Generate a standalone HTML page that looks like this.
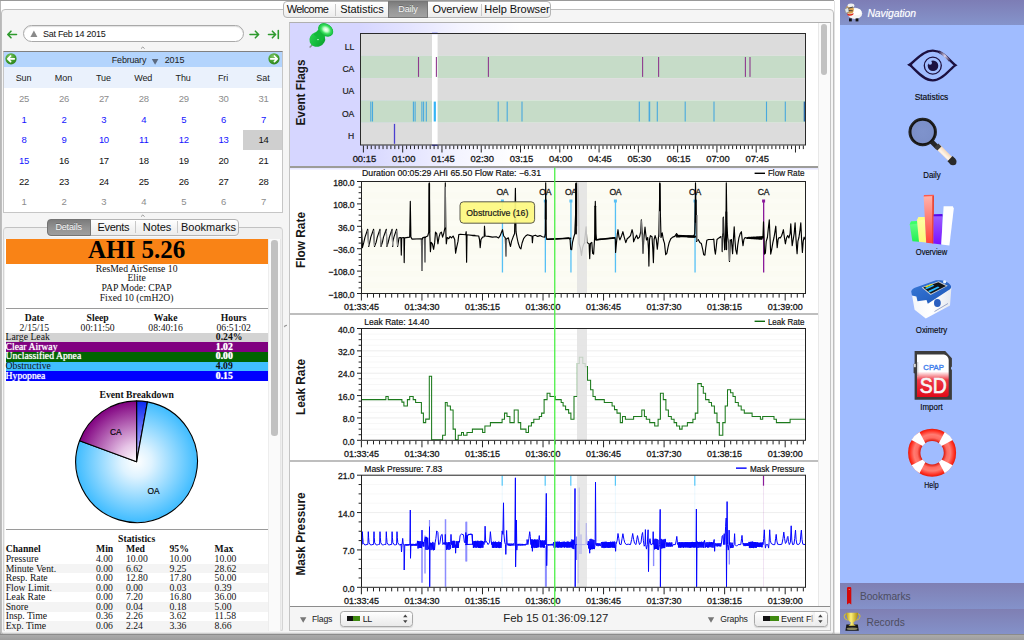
<!DOCTYPE html>
<html><head><meta charset="utf-8"><title>SleepyHead</title><style>
*{box-sizing:border-box;margin:0;padding:0}
html,body{width:1024px;height:640px;overflow:hidden;background:#fff;font-family:"Liberation Sans",sans-serif;}
.abs{position:absolute}
#root{position:relative;width:1024px;height:640px;overflow:hidden;background:#fff}
.t{position:absolute;white-space:nowrap;line-height:1}
.serif{font-family:"Liberation Serif",serif}
svg{position:absolute;left:0;top:0;overflow:visible}
svg text{font-family:"Liberation Sans",sans-serif}
</style></head><body><div id="root">
<div class="abs" style="left:0px;top:0px;width:834px;height:1px;background:#9a9a9a"></div>
<div class="abs" style="left:0px;top:1px;width:1px;height:634px;background:#b8b8b8"></div>
<div class="abs" style="left:1px;top:9px;width:833px;height:627px;background:#f5f5f5;border:1px solid #bebebe;border-radius:4px"></div>
<div class="abs" style="left:834px;top:1px;width:1px;height:633px;background:#e2e2e2"></div>
<div class="abs" style="left:0px;top:634px;width:1024px;height:6px;background:linear-gradient(#7c7c7c,#a9a9a9 25%,#9e9e9e)"></div>
<svg width="300" height="60" viewBox="0 0 300 60"><g fill="none" stroke="#2e9a2e" stroke-width="1.6" stroke-linecap="round" stroke-linejoin="round"><path d="M16.5 34.5H8.2M11 31.2L7.8 34.5L11 37.8"/><path d="M250 34.5H258.2M255.4 31.2L258.6 34.5L255.4 37.8"/><path d="M268.5 34.5H275.2M272.4 31.2L275.6 34.5L272.4 37.8M278.3 30.6V38.4"/></g></svg>
<div class="abs" style="left:23px;top:25px;width:221px;height:17px;background:#fff;border:1px solid #a9a9a9;border-radius:9px;box-shadow:inset 0 1px 1px rgba(0,0,0,.12)"></div>
<svg width="300" height="60"><path d="M30.4 37L33.9 30.6L37.4 37Z" fill="#8a8a8a"/></svg>
<div class="t " style="left:43px;top:30.18px;font-size:9px;color:#111;letter-spacing:-0.28px">Sat Feb 14 2015</div>
<svg width="300" height="340"><path d="M141 48.6l1.8-1.6l1.8 1.6M141 216.6l1.8-1.6l1.8 1.6" fill="none" stroke="#9a9a9a" stroke-width="1"/><path d="M284.4 327.2q.4-2 2.600-1.800" fill="none" stroke="#9a9a9a" stroke-width="1.3"/></svg>
<div class="abs" style="left:3px;top:51px;width:280px;height:162px;background:#fff;border:1px solid #c6c6c6;border-top-color:#808080"></div>
<div class="abs" style="left:4px;top:52px;width:278px;height:15px;background:#b3d4fd"></div>
<div class="abs" style="left:4px;top:67px;width:278px;height:21px;background:#eaf1fc"></div>
<div class="t " style="left:-21px;width:300px;text-align:center;top:55.58px;font-size:9px;color:#222;letter-spacing:-0.2px">February</div>
<div class="t " style="left:24.5px;width:300px;text-align:center;top:55.58px;font-size:9px;color:#222;letter-spacing:-0.1px">2015</div>
<svg width="300" height="80"><path d="M151.8 59h6.6l-3.3 5.8z" fill="#5c6a80"/><defs><radialGradient id="gb" cx="0.4" cy="0.3" r="0.8"><stop offset="0" stop-color="#7fc565"/><stop offset="0.6" stop-color="#3d9a2a"/><stop offset="1" stop-color="#2a7a1a"/></radialGradient></defs><circle cx="11" cy="58.8" r="5.6" fill="url(#gb)"/><path d="M14.3 58.8H8.2M10.6 56L7.8 58.8L10.6 61.6" fill="none" stroke="#fff" stroke-width="1.7" stroke-linecap="round" stroke-linejoin="round"/><circle cx="274" cy="58.8" r="5.6" fill="url(#gb)"/><path d="M270.7 58.8H276.8M274.4 56L277.2 58.8L274.4 61.6" fill="none" stroke="#fff" stroke-width="1.7" stroke-linecap="round" stroke-linejoin="round"/></svg>
<div class="t " style="left:-126.45px;width:300px;text-align:center;top:73.58px;font-size:9px;color:#222;letter-spacing:-0.1px">Sun</div>
<div class="t " style="left:-86.55000000000001px;width:300px;text-align:center;top:73.58px;font-size:9px;color:#222;letter-spacing:-0.1px">Mon</div>
<div class="t " style="left:-46.650000000000006px;width:300px;text-align:center;top:73.58px;font-size:9px;color:#222;letter-spacing:-0.1px">Tue</div>
<div class="t " style="left:-6.75px;width:300px;text-align:center;top:73.58px;font-size:9px;color:#222;letter-spacing:-0.1px">Wed</div>
<div class="t " style="left:33.14999999999998px;width:300px;text-align:center;top:73.58px;font-size:9px;color:#222;letter-spacing:-0.1px">Thu</div>
<div class="t " style="left:73.04999999999998px;width:300px;text-align:center;top:73.58px;font-size:9px;color:#222;letter-spacing:-0.1px">Fri</div>
<div class="t " style="left:112.94999999999999px;width:300px;text-align:center;top:73.58px;font-size:9px;color:#222;letter-spacing:-0.1px">Sat</div>
<div class="abs" style="left:243px;top:129.7px;width:39px;height:20.5px;background:#cfcfcf"></div>
<div class="t " style="left:-125.95px;width:300px;text-align:center;top:93.81px;font-size:9.5px;color:#8c8c8c;letter-spacing:-0.3px">25</div>
<div class="t " style="left:-86.05000000000001px;width:300px;text-align:center;top:93.81px;font-size:9.5px;color:#8c8c8c;letter-spacing:-0.3px">26</div>
<div class="t " style="left:-46.150000000000006px;width:300px;text-align:center;top:93.81px;font-size:9.5px;color:#8c8c8c;letter-spacing:-0.3px">27</div>
<div class="t " style="left:-6.25px;width:300px;text-align:center;top:93.81px;font-size:9.5px;color:#8c8c8c;letter-spacing:-0.3px">28</div>
<div class="t " style="left:33.64999999999998px;width:300px;text-align:center;top:93.81px;font-size:9.5px;color:#8c8c8c;letter-spacing:-0.3px">29</div>
<div class="t " style="left:73.54999999999998px;width:300px;text-align:center;top:93.81px;font-size:9.5px;color:#8c8c8c;letter-spacing:-0.3px">30</div>
<div class="t " style="left:113.44999999999999px;width:300px;text-align:center;top:93.81px;font-size:9.5px;color:#8c8c8c;letter-spacing:-0.3px">31</div>
<div class="t " style="left:-125.95px;width:300px;text-align:center;top:114.51px;font-size:9.5px;color:#1414ff;letter-spacing:-0.3px">1</div>
<div class="t " style="left:-86.05000000000001px;width:300px;text-align:center;top:114.51px;font-size:9.5px;color:#1414ff;letter-spacing:-0.3px">2</div>
<div class="t " style="left:-46.150000000000006px;width:300px;text-align:center;top:114.51px;font-size:9.5px;color:#1414ff;letter-spacing:-0.3px">3</div>
<div class="t " style="left:-6.25px;width:300px;text-align:center;top:114.51px;font-size:9.5px;color:#1414ff;letter-spacing:-0.3px">4</div>
<div class="t " style="left:33.64999999999998px;width:300px;text-align:center;top:114.51px;font-size:9.5px;color:#1414ff;letter-spacing:-0.3px">5</div>
<div class="t " style="left:73.54999999999998px;width:300px;text-align:center;top:114.51px;font-size:9.5px;color:#1414ff;letter-spacing:-0.3px">6</div>
<div class="t " style="left:113.44999999999999px;width:300px;text-align:center;top:114.51px;font-size:9.5px;color:#1414ff;letter-spacing:-0.3px">7</div>
<div class="t " style="left:-125.95px;width:300px;text-align:center;top:135.21px;font-size:9.5px;color:#1414ff;letter-spacing:-0.3px">8</div>
<div class="t " style="left:-86.05000000000001px;width:300px;text-align:center;top:135.21px;font-size:9.5px;color:#1414ff;letter-spacing:-0.3px">9</div>
<div class="t " style="left:-46.150000000000006px;width:300px;text-align:center;top:135.21px;font-size:9.5px;color:#1414ff;letter-spacing:-0.3px">10</div>
<div class="t " style="left:-6.25px;width:300px;text-align:center;top:135.21px;font-size:9.5px;color:#1414ff;letter-spacing:-0.3px">11</div>
<div class="t " style="left:33.64999999999998px;width:300px;text-align:center;top:135.21px;font-size:9.5px;color:#1414ff;letter-spacing:-0.3px">12</div>
<div class="t " style="left:73.54999999999998px;width:300px;text-align:center;top:135.21px;font-size:9.5px;color:#1414ff;letter-spacing:-0.3px">13</div>
<div class="t " style="left:113.44999999999999px;width:300px;text-align:center;top:135.21px;font-size:9.5px;color:#111;letter-spacing:-0.3px">14</div>
<div class="t " style="left:-125.95px;width:300px;text-align:center;top:155.91px;font-size:9.5px;color:#1414ff;letter-spacing:-0.3px">15</div>
<div class="t " style="left:-86.05000000000001px;width:300px;text-align:center;top:155.91px;font-size:9.5px;color:#111;letter-spacing:-0.3px">16</div>
<div class="t " style="left:-46.150000000000006px;width:300px;text-align:center;top:155.91px;font-size:9.5px;color:#111;letter-spacing:-0.3px">17</div>
<div class="t " style="left:-6.25px;width:300px;text-align:center;top:155.91px;font-size:9.5px;color:#111;letter-spacing:-0.3px">18</div>
<div class="t " style="left:33.64999999999998px;width:300px;text-align:center;top:155.91px;font-size:9.5px;color:#111;letter-spacing:-0.3px">19</div>
<div class="t " style="left:73.54999999999998px;width:300px;text-align:center;top:155.91px;font-size:9.5px;color:#111;letter-spacing:-0.3px">20</div>
<div class="t " style="left:113.44999999999999px;width:300px;text-align:center;top:155.91px;font-size:9.5px;color:#111;letter-spacing:-0.3px">21</div>
<div class="t " style="left:-125.95px;width:300px;text-align:center;top:176.61px;font-size:9.5px;color:#111;letter-spacing:-0.3px">22</div>
<div class="t " style="left:-86.05000000000001px;width:300px;text-align:center;top:176.61px;font-size:9.5px;color:#111;letter-spacing:-0.3px">23</div>
<div class="t " style="left:-46.150000000000006px;width:300px;text-align:center;top:176.61px;font-size:9.5px;color:#111;letter-spacing:-0.3px">24</div>
<div class="t " style="left:-6.25px;width:300px;text-align:center;top:176.61px;font-size:9.5px;color:#111;letter-spacing:-0.3px">25</div>
<div class="t " style="left:33.64999999999998px;width:300px;text-align:center;top:176.61px;font-size:9.5px;color:#111;letter-spacing:-0.3px">26</div>
<div class="t " style="left:73.54999999999998px;width:300px;text-align:center;top:176.61px;font-size:9.5px;color:#111;letter-spacing:-0.3px">27</div>
<div class="t " style="left:113.44999999999999px;width:300px;text-align:center;top:176.61px;font-size:9.5px;color:#111;letter-spacing:-0.3px">28</div>
<div class="t " style="left:-125.95px;width:300px;text-align:center;top:197.31px;font-size:9.5px;color:#8c8c8c;letter-spacing:-0.3px">1</div>
<div class="t " style="left:-86.05000000000001px;width:300px;text-align:center;top:197.31px;font-size:9.5px;color:#8c8c8c;letter-spacing:-0.3px">2</div>
<div class="t " style="left:-46.150000000000006px;width:300px;text-align:center;top:197.31px;font-size:9.5px;color:#8c8c8c;letter-spacing:-0.3px">3</div>
<div class="t " style="left:-6.25px;width:300px;text-align:center;top:197.31px;font-size:9.5px;color:#8c8c8c;letter-spacing:-0.3px">4</div>
<div class="t " style="left:33.64999999999998px;width:300px;text-align:center;top:197.31px;font-size:9.5px;color:#8c8c8c;letter-spacing:-0.3px">5</div>
<div class="t " style="left:73.54999999999998px;width:300px;text-align:center;top:197.31px;font-size:9.5px;color:#8c8c8c;letter-spacing:-0.3px">6</div>
<div class="t " style="left:113.44999999999999px;width:300px;text-align:center;top:197.31px;font-size:9.5px;color:#8c8c8c;letter-spacing:-0.3px">7</div>
<div class="abs" style="left:3px;top:226.5px;width:280px;height:404.5px;background:#efefef;border:1px solid #d4d4d4;border-top-color:#c2c2c2;border-radius:4px 4px 2px 2px"></div>
<div class="abs" style="left:46.5px;top:218.5px;width:192px;height:17px;background:linear-gradient(#ffffff,#f4f4f4 50%,#ececec);border:1px solid #b4b4b4;border-radius:4px;box-shadow:0 1px 0 rgba(255,255,255,.6)"></div>
<div class="abs" style="left:46.5px;top:218.5px;width:44.3px;height:17px;background:linear-gradient(#7c7c7c,#939393 55%,#9d9d9d);border:1px solid #747474;border-radius:4px 0 0 4px"></div>
<div class="abs" style="left:135px;top:221px;width:1px;height:12px;background:#c8c8c8"></div>
<div class="abs" style="left:177px;top:221px;width:1px;height:12px;background:#c8c8c8"></div>
<div class="t " style="left:-81.4px;width:300px;text-align:center;top:222.98px;font-size:9px;color:#f4f4f4;letter-spacing:-0.15px;text-shadow:0 -1px 0 rgba(0,0,0,.25)">Details</div>
<div class="t " style="left:-36.7px;width:300px;text-align:center;top:222.29px;font-size:11px;color:#111;letter-spacing:-0.35px">Events</div>
<div class="t " style="left:7px;width:300px;text-align:center;top:222.29px;font-size:11px;color:#111;letter-spacing:-0.05px">Notes</div>
<div class="t " style="left:58.5px;width:300px;text-align:center;top:222.29px;font-size:11px;color:#111;">Bookmarks</div>
<div class="abs" style="left:5px;top:239px;width:276px;height:391.5px;background:#fff;border-right:1px solid #e6e6e6"></div>
<div class="abs" style="left:268px;top:239px;width:12px;height:391.5px;background:#fafafa;border-left:1px solid #ededed"></div>
<div class="abs" style="left:271.3px;top:240px;width:6.4px;height:196px;background:#c1c1c1;border-radius:3.2px"></div>
<div class="abs" style="left:5.5px;top:239px;width:262.5px;height:24.5px;background:#f98316"></div>
<div class="t serif" style="left:-13.400000000000006px;width:300px;text-align:center;top:237.16px;font-size:25px;color:#000;font-weight:bold">AHI 5.26</div>
<div class="t serif" style="left:-13.400000000000006px;width:300px;text-align:center;top:263.68px;font-size:9.7px;color:#111;">ResMed AirSense 10</div>
<div class="t serif" style="left:-13.400000000000006px;width:300px;text-align:center;top:273.43px;font-size:9.7px;color:#111;">Elite</div>
<div class="t serif" style="left:-13.400000000000006px;width:300px;text-align:center;top:283.18px;font-size:9.7px;color:#111;">PAP Mode: CPAP</div>
<div class="t serif" style="left:-13.400000000000006px;width:300px;text-align:center;top:292.93px;font-size:9.7px;color:#111;">Fixed 10 (cmH2O)</div>
<div class="abs" style="left:5.5px;top:307.5px;width:262.5px;height:1px;background:#9a9a9a"></div>
<div class="t serif" style="left:-115.6px;width:300px;text-align:center;top:313.28px;font-size:9.7px;color:#111;font-weight:bold">Date</div>
<div class="t serif" style="left:-115.6px;width:300px;text-align:center;top:322.98px;font-size:9.7px;color:#111;">2/15/15</div>
<div class="t serif" style="left:-52.400000000000006px;width:300px;text-align:center;top:313.28px;font-size:9.7px;color:#111;font-weight:bold">Sleep</div>
<div class="t serif" style="left:-52.400000000000006px;width:300px;text-align:center;top:322.98px;font-size:9.7px;color:#111;">00:11:50</div>
<div class="t serif" style="left:15.599999999999994px;width:300px;text-align:center;top:313.28px;font-size:9.7px;color:#111;font-weight:bold">Wake</div>
<div class="t serif" style="left:15.599999999999994px;width:300px;text-align:center;top:322.98px;font-size:9.7px;color:#111;">08:40:16</div>
<div class="t serif" style="left:83.69999999999999px;width:300px;text-align:center;top:313.28px;font-size:9.7px;color:#111;font-weight:bold">Hours</div>
<div class="t serif" style="left:83.69999999999999px;width:300px;text-align:center;top:322.98px;font-size:9.7px;color:#111;">06:51:02</div>
<div class="abs" style="left:5.5px;top:333px;width:262.5px;height:9.900000000000011px;background:#d3d3d3"></div>
<div class="t serif" style="left:5.6px;top:332.28px;font-size:9.7px;color:#111;">Large Leak</div>
<div class="t serif" style="left:215.8px;top:332.28px;font-size:9.7px;color:#111;font-weight:bold;">0.24%</div>
<div class="abs" style="left:5.5px;top:342.3px;width:262.5px;height:10.199999999999966px;background:#800080"></div>
<div class="t serif" style="left:5.6px;top:341.88px;font-size:9.7px;color:#fff;text-shadow:0 0 1px #fff;">Clear Airway</div>
<div class="t serif" style="left:215.8px;top:341.88px;font-size:9.7px;color:#fff;font-weight:bold;text-shadow:0 0 1px #fff;">1.02</div>
<div class="abs" style="left:5.5px;top:351.9px;width:262.5px;height:10.200000000000022px;background:#006400"></div>
<div class="t serif" style="left:5.6px;top:351.48px;font-size:9.7px;color:#fff;text-shadow:0 0 1px #fff;">Unclassified Apnea</div>
<div class="t serif" style="left:215.8px;top:351.48px;font-size:9.7px;color:#fff;font-weight:bold;text-shadow:0 0 1px #fff;">0.00</div>
<div class="abs" style="left:5.5px;top:361.5px;width:262.5px;height:9.900000000000011px;background:#40bfff"></div>
<div class="t serif" style="left:5.6px;top:360.78px;font-size:9.7px;color:#111;">Obstructive</div>
<div class="t serif" style="left:215.8px;top:360.78px;font-size:9.7px;color:#111;font-weight:bold;">4.09</div>
<div class="abs" style="left:5.5px;top:370.8px;width:262.5px;height:10.0px;background:#0000ff"></div>
<div class="t serif" style="left:5.6px;top:370.78px;font-size:9.7px;color:#fff;text-shadow:0 0 1px #fff;">Hypopnea</div>
<div class="t serif" style="left:215.8px;top:370.78px;font-size:9.7px;color:#fff;font-weight:bold;text-shadow:0 0 1px #fff;">0.15</div>
<div class="t serif" style="left:-13.400000000000006px;width:300px;text-align:center;top:389.98px;font-size:9.7px;color:#111;font-weight:bold">Event Breakdown</div>
<svg width="300" height="640"><defs><radialGradient id="gO" gradientUnits="userSpaceOnUse" cx="136.6" cy="461.7" r="60.8"><stop offset="0" stop-color="#ffffff"/><stop offset="0.25" stop-color="#dff3ff"/><stop offset="1" stop-color="#3fbcff"/></radialGradient><radialGradient id="gC" gradientUnits="userSpaceOnUse" cx="136.6" cy="461.7" r="60.8"><stop offset="0" stop-color="#ffffff"/><stop offset="0.3" stop-color="#e6c3e6"/><stop offset="1" stop-color="#800080"/></radialGradient><radialGradient id="gH" gradientUnits="userSpaceOnUse" cx="136.6" cy="461.7" r="60.8"><stop offset="0" stop-color="#ffffff"/><stop offset="0.3" stop-color="#9a9aff"/><stop offset="1" stop-color="#0a2af0"/></radialGradient></defs><g stroke="#000" stroke-width="1.1" stroke-linejoin="round"><path d="M136.6 461.7L136.60 400.90A60.8 60.8 0 0 1 147.44 401.87Z" fill="url(#gH)"/><path d="M136.6 461.7L147.44 401.87A60.8 60.8 0 1 1 79.54 440.72Z" fill="url(#gO)"/><path d="M136.6 461.7L79.54 440.72A60.8 60.8 0 0 1 136.60 400.90Z" fill="url(#gC)"/></g><text x="115.8" y="434.6" font-size="8.4" text-anchor="middle" fill="#000" stroke="#000" stroke-width=".15">CA</text><text x="153.6" y="494" font-size="8.4" text-anchor="middle" fill="#000" stroke="#000" stroke-width=".15">OA</text></svg>
<div class="abs" style="left:5.5px;top:529.2px;width:262.5px;height:1px;background:#9a9a9a"></div>
<div class="t serif" style="left:-13.400000000000006px;width:300px;text-align:center;top:534.48px;font-size:9.7px;color:#111;font-weight:bold">Statistics</div>
<div class="t serif" style="left:5.7px;top:543.78px;font-size:9.7px;color:#111;font-weight:bold">Channel</div>
<div class="t serif" style="left:96px;top:543.78px;font-size:9.7px;color:#111;font-weight:bold">Min</div>
<div class="t serif" style="left:126px;top:543.78px;font-size:9.7px;color:#111;font-weight:bold">Med</div>
<div class="t serif" style="left:169.5px;top:543.78px;font-size:9.7px;color:#111;font-weight:bold">95%</div>
<div class="t serif" style="left:214.6px;top:543.78px;font-size:9.7px;color:#111;font-weight:bold">Max</div>
<div class="t serif" style="left:5.7px;top:554.08px;font-size:9.7px;color:#111;">Pressure</div>
<div class="t serif" style="left:96px;top:554.08px;font-size:9.7px;color:#111;">4.00</div>
<div class="t serif" style="left:126px;top:554.08px;font-size:9.7px;color:#111;">10.00</div>
<div class="t serif" style="left:169.5px;top:554.08px;font-size:9.7px;color:#111;">10.00</div>
<div class="t serif" style="left:214.6px;top:554.08px;font-size:9.7px;color:#111;">10.00</div>
<div class="abs" style="left:5.5px;top:563.8499999999999px;width:262.5px;height:9.55px;background:#f4f4f4"></div>
<div class="t serif" style="left:5.7px;top:563.63px;font-size:9.7px;color:#111;">Minute Vent.</div>
<div class="t serif" style="left:96px;top:563.63px;font-size:9.7px;color:#111;">0.00</div>
<div class="t serif" style="left:126px;top:563.63px;font-size:9.7px;color:#111;">6.62</div>
<div class="t serif" style="left:169.5px;top:563.63px;font-size:9.7px;color:#111;">9.25</div>
<div class="t serif" style="left:214.6px;top:563.63px;font-size:9.7px;color:#111;">28.62</div>
<div class="t serif" style="left:5.7px;top:573.18px;font-size:9.7px;color:#111;">Resp. Rate</div>
<div class="t serif" style="left:96px;top:573.18px;font-size:9.7px;color:#111;">0.00</div>
<div class="t serif" style="left:126px;top:573.18px;font-size:9.7px;color:#111;">12.80</div>
<div class="t serif" style="left:169.5px;top:573.18px;font-size:9.7px;color:#111;">17.80</div>
<div class="t serif" style="left:214.6px;top:573.18px;font-size:9.7px;color:#111;">50.00</div>
<div class="abs" style="left:5.5px;top:582.9499999999999px;width:262.5px;height:9.55px;background:#f4f4f4"></div>
<div class="t serif" style="left:5.7px;top:582.73px;font-size:9.7px;color:#111;">Flow Limit.</div>
<div class="t serif" style="left:96px;top:582.73px;font-size:9.7px;color:#111;">0.00</div>
<div class="t serif" style="left:126px;top:582.73px;font-size:9.7px;color:#111;">0.00</div>
<div class="t serif" style="left:169.5px;top:582.73px;font-size:9.7px;color:#111;">0.03</div>
<div class="t serif" style="left:214.6px;top:582.73px;font-size:9.7px;color:#111;">0.39</div>
<div class="t serif" style="left:5.7px;top:592.28px;font-size:9.7px;color:#111;">Leak Rate</div>
<div class="t serif" style="left:96px;top:592.28px;font-size:9.7px;color:#111;">0.00</div>
<div class="t serif" style="left:126px;top:592.28px;font-size:9.7px;color:#111;">7.20</div>
<div class="t serif" style="left:169.5px;top:592.28px;font-size:9.7px;color:#111;">16.80</div>
<div class="t serif" style="left:214.6px;top:592.28px;font-size:9.7px;color:#111;">36.00</div>
<div class="abs" style="left:5.5px;top:602.05px;width:262.5px;height:9.55px;background:#f4f4f4"></div>
<div class="t serif" style="left:5.7px;top:601.83px;font-size:9.7px;color:#111;">Snore</div>
<div class="t serif" style="left:96px;top:601.83px;font-size:9.7px;color:#111;">0.00</div>
<div class="t serif" style="left:126px;top:601.83px;font-size:9.7px;color:#111;">0.04</div>
<div class="t serif" style="left:169.5px;top:601.83px;font-size:9.7px;color:#111;">0.18</div>
<div class="t serif" style="left:214.6px;top:601.83px;font-size:9.7px;color:#111;">5.00</div>
<div class="t serif" style="left:5.7px;top:611.38px;font-size:9.7px;color:#111;">Insp. Time</div>
<div class="t serif" style="left:96px;top:611.38px;font-size:9.7px;color:#111;">0.36</div>
<div class="t serif" style="left:126px;top:611.38px;font-size:9.7px;color:#111;">2.26</div>
<div class="t serif" style="left:169.5px;top:611.38px;font-size:9.7px;color:#111;">3.62</div>
<div class="t serif" style="left:214.6px;top:611.38px;font-size:9.7px;color:#111;">11.58</div>
<div class="abs" style="left:5.5px;top:621.15px;width:262.5px;height:9.55px;background:#f4f4f4"></div>
<div class="t serif" style="left:5.7px;top:620.93px;font-size:9.7px;color:#111;">Exp. Time</div>
<div class="t serif" style="left:96px;top:620.93px;font-size:9.7px;color:#111;">0.06</div>
<div class="t serif" style="left:126px;top:620.93px;font-size:9.7px;color:#111;">2.24</div>
<div class="t serif" style="left:169.5px;top:620.93px;font-size:9.7px;color:#111;">3.36</div>
<div class="t serif" style="left:214.6px;top:620.93px;font-size:9.7px;color:#111;">8.66</div>
<div class="abs" style="left:283px;top:1px;width:268px;height:16.5px;background:linear-gradient(#ffffff,#f6f6f6 50%,#ececec);border:1px solid #b4b4b4;border-radius:4px;box-shadow:0 1px 0 rgba(255,255,255,.6)"></div>
<div class="abs" style="left:388px;top:1px;width:40px;height:16.5px;background:linear-gradient(#7c7c7c,#979797 55%,#a2a2a2);border:1px solid #777;"></div>
<div class="abs" style="left:334.5px;top:3.5px;width:1px;height:12px;background:#c8c8c8"></div>
<div class="abs" style="left:481.2px;top:3.5px;width:1px;height:12px;background:#c8c8c8"></div>
<div class="t " style="left:157.5px;width:300px;text-align:center;top:3.69px;font-size:11px;color:#111;letter-spacing:-0.6px">Welcome</div>
<div class="t " style="left:212px;width:300px;text-align:center;top:3.69px;font-size:11px;color:#111;letter-spacing:-0.05px">Statistics</div>
<div class="t " style="left:258px;width:300px;text-align:center;top:4.78px;font-size:9px;color:#f4f4f4;letter-spacing:-0.1px;text-shadow:0 -1px 0 rgba(0,0,0,.25)">Daily</div>
<div class="t " style="left:305px;width:300px;text-align:center;top:3.69px;font-size:11px;color:#111;letter-spacing:-0.1px">Overview</div>
<div class="t " style="left:367px;width:300px;text-align:center;top:3.69px;font-size:11px;color:#111;letter-spacing:-0.05px">Help Browser</div>
<div class="abs" style="left:289px;top:21.5px;width:542px;height:609px;background:#fff;border:1px solid #c4c4c4;border-top-color:#b0b0b0"></div>
<div class="abs" style="left:290px;top:22.5px;width:528px;height:143.5px;background:linear-gradient(90deg,#d6d6ff 0,#d6d6ff 70px,#e4e4ff 120px,#f4f4ff 170px,#ffffff 230px)"></div>
<div class="abs" style="left:290px;top:165.9px;width:528px;height:1.7px;background:#9c9c98"></div>
<div class="abs" style="left:290px;top:167.6px;width:528px;height:2px;background:linear-gradient(#e2e2ff,#f6f6ff)"></div>
<div class="abs" style="left:290px;top:312.9px;width:528px;height:1.8px;background:#bebebe"></div>
<div class="abs" style="left:290px;top:460px;width:528px;height:1.8px;background:#bebebe"></div>
<div class="abs" style="left:818px;top:22.5px;width:12px;height:583.5px;background:#fafafa;border-left:1px solid #e8e8e8"></div>
<div class="abs" style="left:821px;top:23.5px;width:6.4px;height:51px;background:#c1c1c1;border-radius:3.2px"></div>
<div class="abs" style="left:290px;top:606px;width:540px;height:1.2px;background:#8c8c8c"></div>
<div class="abs" style="left:290px;top:607.2px;width:540px;height:22.8px;background:#f5f5f5"></div>
<svg width="1024" height="640" viewBox="0 0 1024 640">
<rect x="360.5" y="33.50" width="445.0" height="22.30" fill="#dcdcdc"/>
<text x="354" y="49.85" font-size="8.6" text-anchor="end" fill="#1a1a1a" stroke="#1a1a1a" stroke-width="0.2" style="letter-spacing:-0.2px">LL</text>
<rect x="360.5" y="55.80" width="445.0" height="22.30" fill="#c6dcc8"/>
<text x="354" y="72.15" font-size="8.6" text-anchor="end" fill="#1a1a1a" stroke="#1a1a1a" stroke-width="0.2" style="letter-spacing:-0.2px">CA</text>
<rect x="360.5" y="78.10" width="445.0" height="22.30" fill="#dcdcdc"/>
<text x="354" y="94.45" font-size="8.6" text-anchor="end" fill="#1a1a1a" stroke="#1a1a1a" stroke-width="0.2" style="letter-spacing:-0.2px">UA</text>
<rect x="360.5" y="100.40" width="445.0" height="22.30" fill="#c6dcc8"/>
<text x="354" y="116.75" font-size="8.6" text-anchor="end" fill="#1a1a1a" stroke="#1a1a1a" stroke-width="0.2" style="letter-spacing:-0.2px">OA</text>
<rect x="360.5" y="122.70" width="445.0" height="22.30" fill="#dcdcdc"/>
<text x="354" y="139.05" font-size="8.6" text-anchor="end" fill="#1a1a1a" stroke="#1a1a1a" stroke-width="0.2" style="letter-spacing:-0.2px">H</text>
<rect x="432" y="33.5" width="5.6" height="111.5" fill="#fff"/>
<rect x="432" y="32.7" width="5.6" height="1.4" fill="#5a5af0"/><rect x="432" y="144.6" width="5.6" height="1.4" fill="#5a5af0"/>
<rect x="417.95" y="57.00" width="1.1" height="19.90" fill="#8e3a8e"/>
<rect x="435.85" y="57.00" width="1.1" height="19.90" fill="#8e3a8e"/>
<rect x="487.85" y="57.00" width="1.1" height="19.90" fill="#8e3a8e"/>
<rect x="642.05" y="57.00" width="1.1" height="19.90" fill="#8e3a8e"/>
<rect x="658.05" y="57.00" width="1.1" height="19.90" fill="#8e3a8e"/>
<rect x="744.85" y="57.00" width="1.1" height="19.90" fill="#8e3a8e"/>
<rect x="749.45" y="57.00" width="1.1" height="19.90" fill="#8e3a8e"/>
<rect x="370.25" y="101.60" width="1.1" height="19.90" fill="#49a9de"/>
<rect x="371.95" y="101.60" width="1.1" height="19.90" fill="#49a9de"/>
<rect x="412.85" y="101.60" width="1.1" height="19.90" fill="#49a9de"/>
<rect x="414.55" y="101.60" width="1.1" height="19.90" fill="#49a9de"/>
<rect x="421.35" y="101.60" width="1.1" height="19.90" fill="#49a9de"/>
<rect x="423.05" y="101.60" width="1.1" height="19.90" fill="#49a9de"/>
<rect x="425.75" y="101.60" width="1.1" height="19.90" fill="#49a9de"/>
<rect x="497.65" y="101.60" width="1.1" height="19.90" fill="#49a9de"/>
<rect x="506.65" y="101.60" width="1.1" height="19.90" fill="#49a9de"/>
<rect x="521.45" y="101.60" width="1.1" height="19.90" fill="#49a9de"/>
<rect x="638.75" y="101.60" width="1.1" height="19.90" fill="#49a9de"/>
<rect x="648.60" y="101.60" width="1.6" height="19.90" fill="#49a9de"/>
<rect x="656.75" y="101.60" width="1.1" height="19.90" fill="#49a9de"/>
<rect x="684.65" y="101.60" width="1.1" height="19.90" fill="#49a9de"/>
<rect x="713.45" y="101.60" width="1.1" height="19.90" fill="#49a9de"/>
<rect x="765.95" y="101.60" width="1.1" height="19.90" fill="#49a9de"/>
<rect x="784.75" y="101.60" width="1.1" height="19.90" fill="#49a9de"/>
<rect x="433.70" y="101.60" width="2.2" height="19.90" fill="#35b5f5"/>
<rect x="803.70" y="101.60" width="1.8" height="19.90" fill="#2a6aa8"/>
<rect x="393.85" y="123.90" width="1.3" height="19.90" fill="#4a3fd0"/>
<rect x="360.5" y="33.5" width="445.0" height="111.5" fill="none" stroke="#2a2a2a" stroke-width="1"/>
<path d="M363.40 145.5v7M367.33 145.5v3.6M371.26 145.5v3.6M375.18 145.5v3.6M379.11 145.5v3.6M383.04 145.5v3.6M386.97 145.5v3.6M390.90 145.5v3.6M394.82 145.5v3.6M398.75 145.5v3.6M402.68 145.5v7M406.61 145.5v3.6M410.54 145.5v3.6M414.46 145.5v3.6M418.39 145.5v3.6M422.32 145.5v3.6M426.25 145.5v3.6M430.18 145.5v3.6M434.10 145.5v3.6M438.03 145.5v3.6M441.96 145.5v7M445.89 145.5v3.6M449.82 145.5v3.6M453.74 145.5v3.6M457.67 145.5v3.6M461.60 145.5v3.6M465.53 145.5v3.6M469.46 145.5v3.6M473.38 145.5v3.6M477.31 145.5v3.6M481.24 145.5v7M485.17 145.5v3.6M489.10 145.5v3.6M493.02 145.5v3.6M496.95 145.5v3.6M500.88 145.5v3.6M504.81 145.5v3.6M508.74 145.5v3.6M512.66 145.5v3.6M516.59 145.5v3.6M520.52 145.5v7M524.45 145.5v3.6M528.38 145.5v3.6M532.30 145.5v3.6M536.23 145.5v3.6M540.16 145.5v3.6M544.09 145.5v3.6M548.02 145.5v3.6M551.94 145.5v3.6M555.87 145.5v3.6M559.80 145.5v7M563.73 145.5v3.6M567.66 145.5v3.6M571.58 145.5v3.6M575.51 145.5v3.6M579.44 145.5v3.6M583.37 145.5v3.6M587.30 145.5v3.6M591.22 145.5v3.6M595.15 145.5v3.6M599.08 145.5v7M603.01 145.5v3.6M606.94 145.5v3.6M610.86 145.5v3.6M614.79 145.5v3.6M618.72 145.5v3.6M622.65 145.5v3.6M626.58 145.5v3.6M630.50 145.5v3.6M634.43 145.5v3.6M638.36 145.5v7M642.29 145.5v3.6M646.22 145.5v3.6M650.14 145.5v3.6M654.07 145.5v3.6M658.00 145.5v3.6M661.93 145.5v3.6M665.86 145.5v3.6M669.78 145.5v3.6M673.71 145.5v3.6M677.64 145.5v7M681.57 145.5v3.6M685.50 145.5v3.6M689.42 145.5v3.6M693.35 145.5v3.6M697.28 145.5v3.6M701.21 145.5v3.6M705.14 145.5v3.6M709.06 145.5v3.6M712.99 145.5v3.6M716.92 145.5v7M720.85 145.5v3.6M724.78 145.5v3.6M728.70 145.5v3.6M732.63 145.5v3.6M736.56 145.5v3.6M740.49 145.5v3.6M744.42 145.5v3.6M748.34 145.5v3.6M752.27 145.5v3.6M756.20 145.5v7M760.13 145.5v3.6M764.06 145.5v3.6M767.98 145.5v3.6M771.91 145.5v3.6M775.84 145.5v3.6M779.77 145.5v3.6M783.70 145.5v3.6M787.62 145.5v3.6M791.55 145.5v3.6M795.48 145.5v7M799.41 145.5v3.6M803.34 145.5v3.6" stroke="#222" stroke-width="1" fill="none"/>
<text x="364.40" y="162.3" font-size="8.6" text-anchor="middle" fill="#1a1a1a" stroke="#1a1a1a" stroke-width="0.3" textLength="23.5" lengthAdjust="spacingAndGlyphs">00:15</text>
<text x="403.68" y="162.3" font-size="8.6" text-anchor="middle" fill="#1a1a1a" stroke="#1a1a1a" stroke-width="0.3" textLength="23.5" lengthAdjust="spacingAndGlyphs">01:00</text>
<text x="442.96" y="162.3" font-size="8.6" text-anchor="middle" fill="#1a1a1a" stroke="#1a1a1a" stroke-width="0.3" textLength="23.5" lengthAdjust="spacingAndGlyphs">01:45</text>
<text x="482.24" y="162.3" font-size="8.6" text-anchor="middle" fill="#1a1a1a" stroke="#1a1a1a" stroke-width="0.3" textLength="23.5" lengthAdjust="spacingAndGlyphs">02:30</text>
<text x="521.52" y="162.3" font-size="8.6" text-anchor="middle" fill="#1a1a1a" stroke="#1a1a1a" stroke-width="0.3" textLength="23.5" lengthAdjust="spacingAndGlyphs">03:15</text>
<text x="560.80" y="162.3" font-size="8.6" text-anchor="middle" fill="#1a1a1a" stroke="#1a1a1a" stroke-width="0.3" textLength="23.5" lengthAdjust="spacingAndGlyphs">04:00</text>
<text x="600.08" y="162.3" font-size="8.6" text-anchor="middle" fill="#1a1a1a" stroke="#1a1a1a" stroke-width="0.3" textLength="23.5" lengthAdjust="spacingAndGlyphs">04:45</text>
<text x="639.36" y="162.3" font-size="8.6" text-anchor="middle" fill="#1a1a1a" stroke="#1a1a1a" stroke-width="0.3" textLength="23.5" lengthAdjust="spacingAndGlyphs">05:30</text>
<text x="678.64" y="162.3" font-size="8.6" text-anchor="middle" fill="#1a1a1a" stroke="#1a1a1a" stroke-width="0.3" textLength="23.5" lengthAdjust="spacingAndGlyphs">06:15</text>
<text x="717.92" y="162.3" font-size="8.6" text-anchor="middle" fill="#1a1a1a" stroke="#1a1a1a" stroke-width="0.3" textLength="23.5" lengthAdjust="spacingAndGlyphs">07:00</text>
<text x="757.20" y="162.3" font-size="8.6" text-anchor="middle" fill="#1a1a1a" stroke="#1a1a1a" stroke-width="0.3" textLength="23.5" lengthAdjust="spacingAndGlyphs">07:45</text>
<text transform="translate(305.4,92.5) rotate(-90)" font-size="12.2" font-weight="bold" text-anchor="middle" fill="#181818" textLength="66" lengthAdjust="spacingAndGlyphs">Event Flags</text>
<rect x="361.5" y="181.5" width="444.0" height="112.0" fill="#fcfcf4"/>
<rect x="361.5" y="181.50" width="444.0" height="5.60" fill="#fafaf0" opacity=".6"/>
<rect x="361.5" y="192.70" width="444.0" height="5.60" fill="#fafaf0" opacity=".6"/>
<rect x="361.5" y="203.90" width="444.0" height="5.60" fill="#fafaf0" opacity=".6"/>
<rect x="361.5" y="215.10" width="444.0" height="5.60" fill="#fafaf0" opacity=".6"/>
<rect x="361.5" y="226.30" width="444.0" height="5.60" fill="#fafaf0" opacity=".6"/>
<rect x="361.5" y="237.50" width="444.0" height="5.60" fill="#fafaf0" opacity=".6"/>
<rect x="361.5" y="248.70" width="444.0" height="5.60" fill="#fafaf0" opacity=".6"/>
<rect x="361.5" y="259.90" width="444.0" height="5.60" fill="#fafaf0" opacity=".6"/>
<rect x="361.5" y="271.10" width="444.0" height="5.60" fill="#fafaf0" opacity=".6"/>
<rect x="361.5" y="282.30" width="444.0" height="5.60" fill="#fafaf0" opacity=".6"/>
<clipPath id="cpf"><rect x="361.5" y="181.5" width="444.0" height="112.0"/></clipPath>
<rect x="501.79999999999995" y="201" width="1.3" height="71.5" fill="#56c0f5"/><rect x="500.9" y="199.5" width="3" height="3" fill="#56c0f5"/>
<text x="502.4" y="195.2" font-size="8.6" text-anchor="middle" fill="#1a1a1a" stroke="#1a1a1a" stroke-width="0.3" style="letter-spacing:-0.2px">OA</text>
<rect x="544.6999999999999" y="201" width="1.3" height="71.5" fill="#56c0f5"/><rect x="543.8" y="199.5" width="3" height="3" fill="#56c0f5"/>
<text x="545.3" y="195.2" font-size="8.6" text-anchor="middle" fill="#1a1a1a" stroke="#1a1a1a" stroke-width="0.3" style="letter-spacing:-0.2px">OA</text>
<rect x="570.3" y="201" width="1.3" height="71.5" fill="#56c0f5"/><rect x="569.4" y="199.5" width="3" height="3" fill="#56c0f5"/>
<text x="570.9" y="195.2" font-size="8.6" text-anchor="middle" fill="#1a1a1a" stroke="#1a1a1a" stroke-width="0.3" style="letter-spacing:-0.2px">OA</text>
<rect x="614.8" y="201" width="1.3" height="71.5" fill="#56c0f5"/><rect x="613.9" y="199.5" width="3" height="3" fill="#56c0f5"/>
<text x="615.4" y="195.2" font-size="8.6" text-anchor="middle" fill="#1a1a1a" stroke="#1a1a1a" stroke-width="0.3" style="letter-spacing:-0.2px">OA</text>
<rect x="694.4" y="201" width="1.3" height="71.5" fill="#56c0f5"/><rect x="693.5" y="199.5" width="3" height="3" fill="#56c0f5"/>
<text x="695" y="195.2" font-size="8.6" text-anchor="middle" fill="#1a1a1a" stroke="#1a1a1a" stroke-width="0.3" style="letter-spacing:-0.2px">OA</text>
<rect x="763.0" y="201" width="1.3" height="71.5" fill="#8a1a9a"/><rect x="762.1" y="199.5" width="3" height="3" fill="#8a1a9a"/>
<text x="763.6" y="195.2" font-size="8.6" text-anchor="middle" fill="#1a1a1a" stroke="#1a1a1a" stroke-width="0.3" style="letter-spacing:-0.2px">CA</text>
<path d="M361.4 237.5L361.6 228.7L362.4 247.7L363.8 242.4L365.0 237.1L367.7 229.3L368.7 246.5L369.7 242.4L370.8 237.1L373.6 229.3L374.5 246.5L376.1 242.4L377.3 237.1L380.0 229.3L381.0 246.5L382.4 242.4L383.5 237.1L386.3 229.3L386.9 246.5L388.2 242.4L389.4 237.1L392.1 229.3L392.7 246.5L392.7 242.4L393.9 237.1L396.6 229.3L397.6 246.5L399.0 237.9L400.9 237.5L401.3 255.1L401.7 237.9L403.9 237.5L404.2 262.6L404.6 237.9L409.7 237.1L410.3 201.4L410.9 237.1L412.1 239.1L421.4 238.7L422.0 270.4L422.6 237.9L424.6 237.1L425.0 262.0L425.5 237.1L427.7 236.0L428.9 231.7L429.3 182.8L429.8 233.6L430.4 251.6L431.2 242.4L432.4 243.8L433.6 249.3L434.7 242.4L435.5 232.1L436.7 233.6L437.9 243.8L439.0 237.1L440.2 233.2L441.4 232.1L442.6 237.1L443.7 233.6L444.9 227.8L445.3 182.8L445.9 233.6L446.3 243.8L447.2 237.5L448.8 238.7L450.0 236.4L451.5 237.9L453.1 236.0L454.7 239.5L455.6 253.2L456.6 247.7L458.0 241.4L458.8 234.6L460.5 234.2L465.6 234.8L466.2 231.7L466.6 262.2L467.0 234.8L472.3 235.4L475.0 235.4L472.8 235.6L478.7 236.0L479.5 239.5L480.2 247.7L481.0 239.5L482.6 237.1L484.2 236.8L484.5 226.2L485.1 236.0L488.5 236.4L492.4 237.1L496.3 236.8L498.6 237.9L500.2 235.6L501.3 232.8L502.5 229.7L503.7 236.0L505.3 237.9L506.0 256.1L506.6 238.7L508.4 237.9L509.6 243.4L510.5 246.5L511.5 241.4L513.1 237.1L514.6 233.6L515.4 188.3L516.0 231.7L517.0 237.5L518.2 243.0L519.7 247.7L520.9 248.9L522.1 243.0L523.6 238.7L525.6 236.0L527.5 234.8L530.5 235.6L532.0 236.0L532.4 242.6L533.0 236.0L535.4 235.2L537.7 236.4L540.0 235.6L542.4 236.8L544.7 237.1L545.3 233.6L545.7 182.8L546.3 237.5L547.1 239.5L551.0 239.1L556.9 238.9L562.7 238.5L568.6 237.9L570.1 239.5L570.7 249.3L571.7 249.7L572.5 242.4L573.7 237.5L574.8 233.6L575.6 214.1L576.2 182.8L577.0 225.8L577.8 182.8L578.5 198.5L579.1 243.8L580.3 247.7L581.5 255.5L582.6 247.7L583.8 243.8L585.0 242.6L584.4 243.4L585.4 233.6L586.1 226.8L586.9 242.4L588.3 243.4L589.1 243.8L589.7 258.6L590.4 243.4L591.8 242.4L592.6 253.2L593.6 254.1L594.3 243.4L594.9 233.6L595.3 201.4L595.9 233.6L596.5 239.9L600.4 239.1L606.3 238.7L612.1 238.1L614.7 237.5L615.3 239.5L615.6 252.4L616.4 243.4L617.4 233.6L618.0 229.7L619.0 237.1L619.9 239.9L621.5 236.0L622.9 231.7L624.2 237.1L625.8 242.6L627.2 238.7L628.7 237.5L630.5 235.6L632.1 229.7L633.0 233.6L633.6 241.8L635.2 237.9L636.6 235.2L637.9 238.7L639.5 237.1L640.7 231.7L641.4 219.9L642.2 233.6L643.0 253.2L643.8 239.5L645.0 227.0L645.7 233.6L646.5 239.9L647.7 237.5L648.5 249.3L648.9 266.1L649.5 239.5L650.4 235.6L652.0 236.8L652.8 249.3L653.4 262.6L654.1 239.5L655.1 235.6L656.3 239.5L657.3 249.3L658.1 241.4L658.8 233.6L659.4 210.2L659.8 182.8L660.4 214.1L661.0 237.5L662.2 232.8L663.3 239.5L664.5 243.4L665.7 254.7L666.9 253.2L668.0 247.3L669.2 242.4L670.8 238.7L672.7 237.1L674.7 236.4L676.6 233.6L678.2 236.0L680.5 235.6L684.4 236.0L688.3 236.2L692.3 236.4L695.0 236.6L676.3 236.8L680.2 236.8L684.1 236.6L688.0 236.6L693.5 236.8L694.7 233.6L695.1 214.1L695.5 182.8L696.1 214.1L696.6 241.4L698.2 239.5L699.8 242.4L701.3 243.4L702.7 249.3L703.7 254.7L704.9 255.1L705.8 247.3L706.8 240.3L708.6 239.5L712.5 239.5L713.8 239.1L714.6 249.3L715.4 254.1L716.2 247.3L717.0 239.5L718.9 237.9L720.9 236.6L721.7 239.5L722.2 251.6L722.8 233.6L723.4 217.0L724.0 233.6L724.6 249.7L725.4 239.5L726.0 223.9L726.3 182.8L726.9 223.9L727.7 237.5L728.7 243.4L729.5 261.4L730.3 240.5L731.4 239.5L732.6 253.6L733.4 239.5L734.2 226.8L734.9 239.5L735.7 249.3L736.9 254.1L737.7 245.4L738.9 237.9L740.2 233.6L741.4 231.7L742.2 239.5L743.0 245.7L743.9 239.5L745.1 237.5L746.7 238.1L746.7 237.9L747.1 238.3L747.5 237.5L747.8 238.4L748.2 237.4L748.6 238.4L749.0 237.4L749.4 238.5L749.8 237.3L750.2 238.5L750.6 237.3L751.0 238.6L751.4 237.2L751.8 238.6L752.1 237.2L752.5 238.7L752.9 237.1L753.3 238.7L753.7 237.1L754.1 238.8L754.5 237.0L754.9 238.8L755.3 237.0L755.7 238.9L756.1 237.0L756.4 238.9L756.8 236.9L757.2 239.0L757.6 236.9L758.0 239.0L758.4 236.8L758.8 239.1L759.2 236.8L759.6 239.1L760.0 236.7L760.4 239.2L760.7 236.7L761.1 239.2L761.5 236.6L761.9 239.3L762.3 236.6L762.9 237.9L763.5 221.9L764.1 239.5L764.5 254.1L765.4 253.2L766.2 241.4L767.4 237.5L768.6 225.8L769.3 219.9L770.1 239.5L770.7 254.1L771.7 249.3L772.9 242.4L774.0 237.5L775.0 231.7L775.8 226.2L776.6 239.5L777.2 247.7L778.1 239.5L779.1 237.5L780.3 237.9L781.5 236.0L782.6 232.8L783.4 229.7L784.4 237.5L785.4 243.8L786.5 237.9L787.7 235.6L788.9 237.9L790.1 233.6L790.8 223.9L791.6 237.5L792.2 245.7L793.2 239.5L794.2 233.6L795.1 222.9L795.9 237.5L796.7 249.3L797.1 253.6L797.9 241.4L798.9 237.5L799.8 231.7L800.8 222.9L801.6 239.5L802.4 252.4L803.2 241.4L804.1 237.1L805.1 239.5" fill="none" stroke="#000" stroke-width="1.15" stroke-linejoin="round" clip-path="url(#cpf)"/>
<path d="M547.1 239.3L570.5 238.3" fill="none" stroke="#000" stroke-width="1.6" stroke-linecap="round" clip-path="url(#cpf)"/>
<path d="M596.5 239.7L614.7 237.9" fill="none" stroke="#000" stroke-width="1.6" stroke-linecap="round" clip-path="url(#cpf)"/>
<path d="M676.6 235.8L695.0 236.6" fill="none" stroke="#000" stroke-width="2.0" stroke-linecap="round" clip-path="url(#cpf)"/>
<path d="M688.0 236.6L694.3 236.8" fill="none" stroke="#000" stroke-width="2.0" stroke-linecap="round" clip-path="url(#cpf)"/>
<path d="M545.7 200.4L545.7 219.0" fill="none" stroke="#000" stroke-width="1.8" stroke-linecap="round" clip-path="url(#cpf)"/>
<path d="M576.0 183.8L576.0 233.6" fill="none" stroke="#000" stroke-width="1.8" stroke-linecap="round" clip-path="url(#cpf)"/>
<path d="M595.3 206.3L595.3 239.5" fill="none" stroke="#000" stroke-width="1.8" stroke-linecap="round" clip-path="url(#cpf)"/>
<path d="M659.8 183.8L659.8 210.2" fill="none" stroke="#000" stroke-width="1.6" stroke-linecap="round" clip-path="url(#cpf)"/>
<path d="M695.7 200.4L695.7 221.9" fill="none" stroke="#000" stroke-width="1.8" stroke-linecap="round" clip-path="url(#cpf)"/>
<path d="M726.3 212.1L726.3 249.3" fill="none" stroke="#000" stroke-width="1.8" stroke-linecap="round" clip-path="url(#cpf)"/>
<path d="M429.3 183.8L429.3 231.7" fill="none" stroke="#000" stroke-width="1.6" stroke-linecap="round" clip-path="url(#cpf)"/>
<path d="M367.8 230.5L368.7 245.7" stroke="#9a9a9a" stroke-width="1.2" fill="none"/>
<path d="M373.7 230.5L374.5 245.7" stroke="#9a9a9a" stroke-width="1.2" fill="none"/>
<path d="M380.1 230.5L381.0 245.7" stroke="#9a9a9a" stroke-width="1.2" fill="none"/>
<path d="M386.4 230.5L386.9 245.7" stroke="#9a9a9a" stroke-width="1.2" fill="none"/>
<path d="M392.2 230.5L392.7 245.7" stroke="#9a9a9a" stroke-width="1.2" fill="none"/>
<path d="M396.7 230.5L397.6 245.7" stroke="#9a9a9a" stroke-width="1.2" fill="none"/>
<path d="M422.0 239.5L422.0 270.4" stroke="#8e8e8e" stroke-width="1.3" fill="none" clip-path="url(#cpf)"/>
<path d="M425.1 237.9L425.1 262.0" stroke="#8e8e8e" stroke-width="1.3" fill="none" clip-path="url(#cpf)"/>
<path d="M445.3 186.7L445.3 227.4" stroke="#777" stroke-width="1.3" fill="none" clip-path="url(#cpf)"/>
<path d="M506.1 239.5L506.1 256.1" stroke="#8e8e8e" stroke-width="1.3" fill="none" clip-path="url(#cpf)"/>
<path d="M643.0 234.6L643.0 253.2" stroke="#777" stroke-width="1.3" fill="none" clip-path="url(#cpf)"/>
<path d="M641.4 220.3L641.4 233.6" stroke="#777" stroke-width="1.3" fill="none" clip-path="url(#cpf)"/>
<path d="M659.4 211.2L659.4 237.1" stroke="#8a8a8a" stroke-width="1.3" fill="none" clip-path="url(#cpf)"/>
<path d="M729.2 239.5L729.2 261.0" stroke="#8e8e8e" stroke-width="1.3" fill="none" clip-path="url(#cpf)"/>
<path d="M722.8 217.6L722.8 233.6" stroke="#777" stroke-width="1.3" fill="none" clip-path="url(#cpf)"/>
<path d="M721.7 237.1L721.7 250.8" stroke="#888" stroke-width="1.3" fill="none" clip-path="url(#cpf)"/>
<path d="M697.0 215.1L697.0 241.1" stroke="#888" stroke-width="1.3" fill="none" clip-path="url(#cpf)"/>
<rect x="577" y="181.5" width="10" height="112.0" fill="#e2e2e2" opacity=".85"/>
<rect x="361.5" y="181.5" width="444.0" height="112.0" fill="none" stroke="#222" stroke-width="1"/>
<text x="354.6" y="185.70" font-size="8.6" text-anchor="end" fill="#1a1a1a" stroke="#1a1a1a" stroke-width="0.3" style="letter-spacing:-0.05px">180.0</text>
<text x="354.6" y="208.10" font-size="8.6" text-anchor="end" fill="#1a1a1a" stroke="#1a1a1a" stroke-width="0.3" style="letter-spacing:-0.05px">108.0</text>
<text x="354.6" y="230.50" font-size="8.6" text-anchor="end" fill="#1a1a1a" stroke="#1a1a1a" stroke-width="0.3" style="letter-spacing:-0.05px">36.0</text>
<text x="354.6" y="252.90" font-size="8.6" text-anchor="end" fill="#1a1a1a" stroke="#1a1a1a" stroke-width="0.3" style="letter-spacing:-0.05px">−36.0</text>
<text x="354.6" y="275.30" font-size="8.6" text-anchor="end" fill="#1a1a1a" stroke="#1a1a1a" stroke-width="0.3" style="letter-spacing:-0.05px">−108.0</text>
<text x="354.6" y="297.70" font-size="8.6" text-anchor="end" fill="#1a1a1a" stroke="#1a1a1a" stroke-width="0.3" style="letter-spacing:-0.05px">−180.0</text>
<path d="M361.0 181.50h-4M361.0 187.10h-2.4M361.0 192.70h-2.4M361.0 198.30h-2.4M361.0 203.90h-4M361.0 209.50h-2.4M361.0 215.10h-2.4M361.0 220.70h-2.4M361.0 226.30h-4M361.0 231.90h-2.4M361.0 237.50h-2.4M361.0 243.10h-2.4M361.0 248.70h-4M361.0 254.30h-2.4M361.0 259.90h-2.4M361.0 265.50h-2.4M361.0 271.10h-4M361.0 276.70h-2.4M361.0 282.30h-2.4M361.0 287.90h-2.4M361.0 293.50h-4" stroke="#222" stroke-width="1" fill="none"/>
<path d="M361.40 294.0v6.5M367.45 294.0v3.6M373.51 294.0v3.6M379.56 294.0v3.6M385.62 294.0v3.6M391.67 294.0v3.6M397.72 294.0v3.6M403.78 294.0v3.6M409.83 294.0v3.6M415.89 294.0v3.6M421.94 294.0v6.5M427.99 294.0v3.6M434.05 294.0v3.6M440.10 294.0v3.6M446.16 294.0v3.6M452.21 294.0v3.6M458.26 294.0v3.6M464.32 294.0v3.6M470.37 294.0v3.6M476.43 294.0v3.6M482.48 294.0v6.5M488.53 294.0v3.6M494.59 294.0v3.6M500.64 294.0v3.6M506.70 294.0v3.6M512.75 294.0v3.6M518.80 294.0v3.6M524.86 294.0v3.6M530.91 294.0v3.6M536.97 294.0v3.6M543.02 294.0v6.5M549.07 294.0v3.6M555.13 294.0v3.6M561.18 294.0v3.6M567.24 294.0v3.6M573.29 294.0v3.6M579.34 294.0v3.6M585.40 294.0v3.6M591.45 294.0v3.6M597.51 294.0v3.6M603.56 294.0v6.5M609.61 294.0v3.6M615.67 294.0v3.6M621.72 294.0v3.6M627.78 294.0v3.6M633.83 294.0v3.6M639.88 294.0v3.6M645.94 294.0v3.6M651.99 294.0v3.6M658.05 294.0v3.6M664.10 294.0v6.5M670.15 294.0v3.6M676.21 294.0v3.6M682.26 294.0v3.6M688.32 294.0v3.6M694.37 294.0v3.6M700.42 294.0v3.6M706.48 294.0v3.6M712.53 294.0v3.6M718.59 294.0v3.6M724.64 294.0v6.5M730.69 294.0v3.6M736.75 294.0v3.6M742.80 294.0v3.6M748.86 294.0v3.6M754.91 294.0v3.6M760.96 294.0v3.6M767.02 294.0v3.6M773.07 294.0v3.6M779.13 294.0v3.6M785.18 294.0v6.5M791.23 294.0v3.6M797.29 294.0v3.6M803.34 294.0v3.6" stroke="#222" stroke-width="1" fill="none"/>
<text x="361.40" y="309.70" font-size="8.6" text-anchor="middle" fill="#1a1a1a" stroke="#1a1a1a" stroke-width="0.3" textLength="35" lengthAdjust="spacingAndGlyphs">01:33:45</text>
<text x="421.94" y="309.70" font-size="8.6" text-anchor="middle" fill="#1a1a1a" stroke="#1a1a1a" stroke-width="0.3" textLength="35" lengthAdjust="spacingAndGlyphs">01:34:30</text>
<text x="482.48" y="309.70" font-size="8.6" text-anchor="middle" fill="#1a1a1a" stroke="#1a1a1a" stroke-width="0.3" textLength="35" lengthAdjust="spacingAndGlyphs">01:35:15</text>
<text x="543.02" y="309.70" font-size="8.6" text-anchor="middle" fill="#1a1a1a" stroke="#1a1a1a" stroke-width="0.3" textLength="35" lengthAdjust="spacingAndGlyphs">01:36:00</text>
<text x="603.56" y="309.70" font-size="8.6" text-anchor="middle" fill="#1a1a1a" stroke="#1a1a1a" stroke-width="0.3" textLength="35" lengthAdjust="spacingAndGlyphs">01:36:45</text>
<text x="664.10" y="309.70" font-size="8.6" text-anchor="middle" fill="#1a1a1a" stroke="#1a1a1a" stroke-width="0.3" textLength="35" lengthAdjust="spacingAndGlyphs">01:37:30</text>
<text x="724.64" y="309.70" font-size="8.6" text-anchor="middle" fill="#1a1a1a" stroke="#1a1a1a" stroke-width="0.3" textLength="35" lengthAdjust="spacingAndGlyphs">01:38:15</text>
<text x="785.18" y="309.70" font-size="8.6" text-anchor="middle" fill="#1a1a1a" stroke="#1a1a1a" stroke-width="0.3" textLength="35" lengthAdjust="spacingAndGlyphs">01:39:00</text>
<text x="362" y="176.4" font-size="8.6" fill="#111" stroke="#111" stroke-width="0.18" textLength="179" lengthAdjust="spacingAndGlyphs">Duration 00:05:29 AHI 65.50 Flow Rate: −6.31</text>
<text x="804.4" y="176.4" font-size="8.6" text-anchor="end" fill="#111" stroke="#111" stroke-width="0.18" textLength="36.5" lengthAdjust="spacingAndGlyphs">Flow Rate</text>
<rect x="754.6" y="172.6" width="10.4" height="1.4" fill="#000"/>
<text transform="translate(305.4,240) rotate(-90)" font-size="12.2" font-weight="bold" text-anchor="middle" fill="#181818" textLength="56" lengthAdjust="spacingAndGlyphs">Flow Rate</text>
<rect x="460" y="201.8" width="74.6" height="21.4" rx="3.5" ry="3.5" fill="#fdf982" fill-opacity=".94" stroke="#4a4a40" stroke-width="0.9"/>
<text x="497.3" y="216" font-size="8.8" text-anchor="middle" fill="#1a1a1a" stroke="#1a1a1a" stroke-width="0.2" textLength="62" lengthAdjust="spacingAndGlyphs">Obstructive (16)</text>
<rect x="361.5" y="328.5" width="444.0" height="111.80000000000001" fill="#ffffff"/>
<path d="M361.5 334.09H805.5M361.5 339.68H805.5M361.5 345.27H805.5M361.5 356.45H805.5M361.5 362.04H805.5M361.5 367.63H805.5M361.5 378.81H805.5M361.5 384.40H805.5M361.5 389.99H805.5M361.5 401.17H805.5M361.5 406.76H805.5M361.5 412.35H805.5M361.5 423.53H805.5M361.5 429.12H805.5M361.5 434.71H805.5" stroke="#f7f7f7" stroke-width="1" fill="none"/>
<path d="M361.5 350.86H805.5M361.5 373.22H805.5M361.5 395.58H805.5M361.5 417.94H805.5" stroke="#ededed" stroke-width="1" fill="none"/>
<path d="M361.5 399.6V399.6H385.9V396.5H388.2V399.6H401.9V402.1H403.9V406.0H407.4V399.6H409.7V396.5H413.2V399.6H415.6V402.5H421.4V413.1H423.4V422.6H425.7V419.1H429.3V376.3H431.6V439.8H442.6V435.3H445.3V402.5H447.2V406.0H450.4V409.9H453.1V429.1H455.4V439.8H458.2V435.3H461.5V432.4H463.5V435.3H465.0V435.3H467.0V432.4H472.4V429.1H482.6V432.4H484.9V426.0H490.4V422.6H502.1V419.3H504.5V413.1H507.0V416.4H509.9V422.6H514.2V409.9H518.2V422.6H520.7V429.1H526.0V432.4H528.5V426.0H531.4V422.6H533.8V419.3H539.3V416.4H541.6V413.1H544.1V399.6H547.1V393.3H550.0V396.5H555.3V399.6H561.2V402.5H563.1V406.0H565.6V409.6H568.6V413.1H570.9V419.3H574.0V396.5H575.0V396.5H577.3V363.4H579.3V357.2H582.8V363.4H585.2V366.6H587.5V380.2H590.6V389.8H593.0V396.5H595.3V399.6H604.3V402.5H612.1V406.0H614.5V409.6H617.0V413.1H620.3V422.6H622.5V416.4H625.4V419.3H633.6V416.4H641.8V409.9H644.4V416.4H646.3V419.3H649.7V422.6H654.7V426.0H658.1V419.3H660.4V393.3H663.3V399.6H665.9V409.9H668.4V416.4H671.3V419.3H674.1V422.6H676.6V426.0H679.6V429.1H682.1V426.0H687.4V422.6H689.9V422.6H692.9V419.3H695.3V413.1H697.8V383.6H701.3V386.5H703.3V393.3H705.6V399.6H709.0V402.5H711.5V406.0H714.4V413.1H717.0V422.6H719.3V435.3H722.8V422.6H725.2V406.0H727.5V389.8H730.6V392.7H733.0V396.5H735.3V402.5H738.3V406.0H741.2V409.9H744.3V413.1H752.1V416.4H760.4V419.3H762.7V416.4H774.0V419.3H776.4V422.6H790.1V419.3H805.3" fill="none" stroke="#1c7a1c" stroke-width="1.05" stroke-linejoin="miter"/>
<rect x="577" y="328.5" width="10" height="111.80000000000001" fill="#e2e2e2" opacity=".85"/>
<rect x="361.5" y="328.5" width="444.0" height="111.80000000000001" fill="none" stroke="#222" stroke-width="1"/>
<text x="354.6" y="332.70" font-size="8.6" text-anchor="end" fill="#1a1a1a" stroke="#1a1a1a" stroke-width="0.3" style="letter-spacing:-0.05px">40.0</text>
<text x="354.6" y="355.06" font-size="8.6" text-anchor="end" fill="#1a1a1a" stroke="#1a1a1a" stroke-width="0.3" style="letter-spacing:-0.05px">32.0</text>
<text x="354.6" y="377.42" font-size="8.6" text-anchor="end" fill="#1a1a1a" stroke="#1a1a1a" stroke-width="0.3" style="letter-spacing:-0.05px">24.0</text>
<text x="354.6" y="399.78" font-size="8.6" text-anchor="end" fill="#1a1a1a" stroke="#1a1a1a" stroke-width="0.3" style="letter-spacing:-0.05px">16.0</text>
<text x="354.6" y="422.14" font-size="8.6" text-anchor="end" fill="#1a1a1a" stroke="#1a1a1a" stroke-width="0.3" style="letter-spacing:-0.05px">8.0</text>
<text x="354.6" y="444.50" font-size="8.6" text-anchor="end" fill="#1a1a1a" stroke="#1a1a1a" stroke-width="0.3" style="letter-spacing:-0.05px">0.0</text>
<path d="M361.0 328.50h-4M361.0 334.09h-2.4M361.0 339.68h-2.4M361.0 345.27h-2.4M361.0 350.86h-4M361.0 356.45h-2.4M361.0 362.04h-2.4M361.0 367.63h-2.4M361.0 373.22h-4M361.0 378.81h-2.4M361.0 384.40h-2.4M361.0 389.99h-2.4M361.0 395.58h-4M361.0 401.17h-2.4M361.0 406.76h-2.4M361.0 412.35h-2.4M361.0 417.94h-4M361.0 423.53h-2.4M361.0 429.12h-2.4M361.0 434.71h-2.4M361.0 440.30h-4" stroke="#222" stroke-width="1" fill="none"/>
<path d="M361.40 440.8v6.5M367.45 440.8v3.6M373.51 440.8v3.6M379.56 440.8v3.6M385.62 440.8v3.6M391.67 440.8v3.6M397.72 440.8v3.6M403.78 440.8v3.6M409.83 440.8v3.6M415.89 440.8v3.6M421.94 440.8v6.5M427.99 440.8v3.6M434.05 440.8v3.6M440.10 440.8v3.6M446.16 440.8v3.6M452.21 440.8v3.6M458.26 440.8v3.6M464.32 440.8v3.6M470.37 440.8v3.6M476.43 440.8v3.6M482.48 440.8v6.5M488.53 440.8v3.6M494.59 440.8v3.6M500.64 440.8v3.6M506.70 440.8v3.6M512.75 440.8v3.6M518.80 440.8v3.6M524.86 440.8v3.6M530.91 440.8v3.6M536.97 440.8v3.6M543.02 440.8v6.5M549.07 440.8v3.6M555.13 440.8v3.6M561.18 440.8v3.6M567.24 440.8v3.6M573.29 440.8v3.6M579.34 440.8v3.6M585.40 440.8v3.6M591.45 440.8v3.6M597.51 440.8v3.6M603.56 440.8v6.5M609.61 440.8v3.6M615.67 440.8v3.6M621.72 440.8v3.6M627.78 440.8v3.6M633.83 440.8v3.6M639.88 440.8v3.6M645.94 440.8v3.6M651.99 440.8v3.6M658.05 440.8v3.6M664.10 440.8v6.5M670.15 440.8v3.6M676.21 440.8v3.6M682.26 440.8v3.6M688.32 440.8v3.6M694.37 440.8v3.6M700.42 440.8v3.6M706.48 440.8v3.6M712.53 440.8v3.6M718.59 440.8v3.6M724.64 440.8v6.5M730.69 440.8v3.6M736.75 440.8v3.6M742.80 440.8v3.6M748.86 440.8v3.6M754.91 440.8v3.6M760.96 440.8v3.6M767.02 440.8v3.6M773.07 440.8v3.6M779.13 440.8v3.6M785.18 440.8v6.5M791.23 440.8v3.6M797.29 440.8v3.6M803.34 440.8v3.6" stroke="#222" stroke-width="1" fill="none"/>
<text x="361.40" y="456.50" font-size="8.6" text-anchor="middle" fill="#1a1a1a" stroke="#1a1a1a" stroke-width="0.3" textLength="35" lengthAdjust="spacingAndGlyphs">01:33:45</text>
<text x="421.94" y="456.50" font-size="8.6" text-anchor="middle" fill="#1a1a1a" stroke="#1a1a1a" stroke-width="0.3" textLength="35" lengthAdjust="spacingAndGlyphs">01:34:30</text>
<text x="482.48" y="456.50" font-size="8.6" text-anchor="middle" fill="#1a1a1a" stroke="#1a1a1a" stroke-width="0.3" textLength="35" lengthAdjust="spacingAndGlyphs">01:35:15</text>
<text x="543.02" y="456.50" font-size="8.6" text-anchor="middle" fill="#1a1a1a" stroke="#1a1a1a" stroke-width="0.3" textLength="35" lengthAdjust="spacingAndGlyphs">01:36:00</text>
<text x="603.56" y="456.50" font-size="8.6" text-anchor="middle" fill="#1a1a1a" stroke="#1a1a1a" stroke-width="0.3" textLength="35" lengthAdjust="spacingAndGlyphs">01:36:45</text>
<text x="664.10" y="456.50" font-size="8.6" text-anchor="middle" fill="#1a1a1a" stroke="#1a1a1a" stroke-width="0.3" textLength="35" lengthAdjust="spacingAndGlyphs">01:37:30</text>
<text x="724.64" y="456.50" font-size="8.6" text-anchor="middle" fill="#1a1a1a" stroke="#1a1a1a" stroke-width="0.3" textLength="35" lengthAdjust="spacingAndGlyphs">01:38:15</text>
<text x="785.18" y="456.50" font-size="8.6" text-anchor="middle" fill="#1a1a1a" stroke="#1a1a1a" stroke-width="0.3" textLength="35" lengthAdjust="spacingAndGlyphs">01:39:00</text>
<text x="364.3" y="324.8" font-size="8.6" fill="#111" stroke="#111" stroke-width="0.18" textLength="65" lengthAdjust="spacingAndGlyphs">Leak Rate: 14.40</text>
<text x="804.4" y="324.8" font-size="8.6" text-anchor="end" fill="#111" stroke="#111" stroke-width="0.18" textLength="36.5" lengthAdjust="spacingAndGlyphs">Leak Rate</text>
<rect x="754.6" y="320.6" width="10.4" height="1.4" fill="#0e6a0e"/>
<text transform="translate(305.4,387) rotate(-90)" font-size="12.2" font-weight="bold" text-anchor="middle" fill="#181818" textLength="56" lengthAdjust="spacingAndGlyphs">Leak Rate</text>
<rect x="361.5" y="475.2" width="444.0" height="112.09999999999997" fill="#ffffff"/>
<path d="M361.5 484.54H805.5M361.5 493.88H805.5M361.5 503.22H805.5M361.5 521.91H805.5M361.5 531.25H805.5M361.5 540.59H805.5M361.5 559.27H805.5M361.5 568.62H805.5M361.5 577.96H805.5" stroke="#f8f8f8" stroke-width="1" fill="none"/>
<path d="M361.5 512.57H805.5M361.5 549.93H805.5" stroke="#eeeeee" stroke-width="1" fill="none"/>
<rect x="501.7" y="475.7" width="1" height="111.09999999999997" fill="#56c8f8" opacity=".12"/>
<rect x="501.59999999999997" y="475.7" width="1.2" height="10" fill="#56c8f8"/>
<rect x="544.7" y="475.7" width="1" height="111.09999999999997" fill="#56c8f8" opacity=".12"/>
<rect x="544.6" y="475.7" width="1.2" height="10" fill="#56c8f8"/>
<rect x="570.3" y="475.7" width="1" height="111.09999999999997" fill="#56c8f8" opacity=".12"/>
<rect x="570.1999999999999" y="475.7" width="1.2" height="10" fill="#56c8f8"/>
<rect x="614.9" y="475.7" width="1" height="111.09999999999997" fill="#56c8f8" opacity=".12"/>
<rect x="614.8" y="475.7" width="1.2" height="10" fill="#56c8f8"/>
<rect x="694.3" y="475.7" width="1" height="111.09999999999997" fill="#56c8f8" opacity=".12"/>
<rect x="694.1999999999999" y="475.7" width="1.2" height="10" fill="#56c8f8"/>
<rect x="763.0" y="475.7" width="1" height="111.09999999999997" fill="#8a1a9a" opacity=".12"/>
<rect x="762.9" y="475.7" width="1.2" height="10" fill="#8a1a9a"/>
<clipPath id="cpm"><rect x="361.5" y="475.2" width="444.0" height="112.09999999999997"/></clipPath>
<path d="M422.0 544.2L422.0 582.7" stroke="#8c8cff" stroke-width="1.6" fill="none"/>
<path d="M425.0 535.4L425.0 573.5" stroke="#8c8cff" stroke-width="1.3" fill="none"/>
<path d="M429.5 520.0L429.5 526.6" stroke="#8c8cff" stroke-width="1.2" fill="none"/>
<path d="M445.5 519.2L445.5 586.8" stroke="#8c8cff" stroke-width="1.5" fill="none"/>
<path d="M466.0 521.7L466.0 561.4" stroke="#8c8cff" stroke-width="1.4" fill="none"/>
<path d="M466.6 521.7L466.6 561.4" stroke="#8c8cff" stroke-width="1.4" fill="none"/>
<path d="M545.9 546.2L545.9 586.8" stroke="#8c8cff" stroke-width="2.0" fill="none"/>
<path d="M576.8 536.4L576.8 559.9" stroke="#6a6af8" stroke-width="1.5" fill="none"/>
<path d="M578.3 520.4L578.3 583.3" stroke="#6a6af8" stroke-width="1.5" fill="none"/>
<path d="M579.3 487.5L579.3 554.0" stroke="#6a6af8" stroke-width="1.4" fill="none"/>
<path d="M580.9 534.4L580.9 554.0" stroke="#6a6af8" stroke-width="2.2" fill="none"/>
<path d="M653.6 544.6L653.6 566.1" stroke="#8c8cff" stroke-width="1.4" fill="none"/>
<path d="M729.3 544.6L729.3 564.5" stroke="#8c8cff" stroke-width="1.3" fill="none"/>
<path d="M361.4 544.2L361.8 532.5L362.0 544.4L362.4 531.7L362.7 537.4L363.2 542.8L364.8 545.0L365.9 544.8L367.1 544.4L367.9 544.4L368.3 531.7L368.6 537.4L369.1 542.8L370.6 545.0L371.8 544.8L373.0 544.4L373.6 544.4L374.0 531.7L374.2 537.4L374.7 542.8L376.3 545.0L377.5 544.8L378.6 544.4L379.6 544.4L380.0 531.7L380.3 537.4L380.8 542.8L382.4 545.0L383.5 544.8L384.7 544.4L385.9 544.4L386.3 531.7L386.6 537.4L387.1 542.8L388.6 545.0L389.8 544.8L391.0 544.4L391.7 544.4L392.1 531.7L392.4 537.4L392.9 542.8L394.5 545.0L395.6 544.8L396.8 544.4L396.6 544.4L397.0 531.7L397.3 537.4L397.8 542.8L399.4 545.0L400.5 544.8L401.7 544.4L400.3 544.6L401.1 544.6L401.5 552.0L402.1 544.6L402.7 538.4L403.3 544.6L403.9 544.6L404.2 570.0L404.8 544.6L405.2 544.1L405.7 545.5L406.1 544.2L406.5 545.5L406.9 544.1L407.4 545.5L407.8 544.1L408.2 545.5L408.7 544.1L409.1 545.4L409.5 544.0L409.9 544.6L410.3 510.0L410.5 558.3L410.9 544.6L411.3 543.9L411.7 545.8L412.1 544.0L412.6 545.6L413.0 543.8L413.4 545.5L413.9 544.1L414.3 545.6L414.7 544.0L415.2 545.7L415.6 543.8L416.0 545.7L416.4 543.8L416.9 545.7L417.5 540.9L418.0 548.5L418.4 541.1L418.8 548.1L419.3 541.5L419.7 548.0L420.1 541.3L420.5 548.0L421.0 541.3L421.4 548.1L421.8 544.2L422.0 530.1L422.2 544.2L422.6 541.5L423.0 546.4L423.5 542.0L423.9 546.6L424.3 541.8L425.4 536.9L425.9 549.7L426.5 536.9L427.1 550.0L427.7 537.7L428.3 549.4L429.3 544.6L429.5 526.6L429.7 586.8L430.0 544.6L430.4 542.7L431.0 550.1L431.6 542.9L432.2 549.6L432.8 541.9L433.4 550.3L434.0 542.8L434.5 550.0L435.1 542.9L435.9 538.4L436.7 530.9L437.9 532.5L438.6 544.6L439.8 543.8L441.0 535.4L442.2 534.4L442.9 544.6L444.1 542.3L444.9 544.6L445.3 534.4L445.7 544.6L446.1 542.3L446.7 550.0L447.2 542.5L447.8 549.3L448.4 542.1L449.0 550.0L449.6 542.2L450.2 549.1L450.6 544.6L451.0 534.4L451.5 544.6L451.9 541.4L452.4 548.0L452.8 540.9L453.2 548.0L453.7 540.8L454.1 547.4L454.5 540.9L454.9 547.6L455.4 544.6L455.6 553.2L456.0 544.6L456.2 541.1L456.7 548.0L457.1 541.4L457.5 548.0L458.0 541.3L458.4 548.0L458.8 541.1L459.4 542.3L460.1 535.4L461.5 534.1L463.5 534.8L464.4 542.3L465.2 543.0L465.8 532.5L466.2 543.0L466.8 542.3L467.6 535.4L470.3 534.1L472.3 534.4L472.6 544.2L465.4 544.6L466.0 544.6L466.4 535.4L467.0 544.6L467.5 535.4L468.1 534.4L472.0 534.4L472.6 544.6L473.0 540.9L473.4 547.9L473.9 541.6L474.3 547.4L474.7 541.0L475.2 547.3L475.6 540.9L476.0 547.8L476.5 541.5L476.9 547.6L477.3 540.8L477.7 547.2L478.2 540.9L478.6 547.9L479.0 541.4L479.5 547.8L479.9 541.0L480.3 548.1L480.8 540.8L481.2 547.6L481.6 540.9L482.0 547.6L482.5 541.0L482.9 547.7L483.3 541.6L484.0 544.6L484.7 540.3L485.1 526.2L485.7 542.3L486.5 541.5L488.1 544.6L489.6 542.3L490.4 531.7L491.2 540.3L491.6 544.6L492.0 541.9L492.4 547.7L492.8 542.2L493.3 548.0L493.7 541.6L494.1 547.4L494.5 542.1L495.0 547.9L495.4 541.6L495.8 547.5L496.3 542.2L496.7 548.0L497.1 542.2L497.6 547.4L498.0 542.0L498.4 547.8L498.8 541.6L499.3 548.1L499.7 542.2L500.1 547.9L500.6 542.0L501.0 547.9L501.5 542.3L502.1 530.9L502.9 534.4L503.5 502.8L503.9 533.5L504.7 542.3L505.5 544.6L505.8 554.4L506.2 544.6L506.6 530.5L507.2 544.6L507.6 543.7L508.2 545.6L508.8 543.5L509.4 545.7L509.9 543.6L510.5 545.8L511.1 543.5L511.7 545.6L512.3 543.7L512.9 545.6L513.5 543.5L514.1 545.5L514.8 544.6L515.4 477.8L515.6 566.9L516.0 544.6L516.4 520.0L516.8 550.1L517.2 544.6L517.6 543.9L518.2 545.6L518.7 543.9L519.3 545.5L519.9 543.8L520.5 545.5L521.1 543.9L521.7 545.5L522.3 543.9L522.8 545.5L523.4 544.0L524.0 545.4L524.6 544.0L525.2 545.4L525.8 543.9L526.8 544.6L527.1 539.5L527.9 544.6L528.9 538.4L529.7 531.7L530.3 536.4L530.9 544.6L531.2 539.5L531.7 548.1L532.1 539.3L532.4 551.3L532.8 539.8L533.2 547.3L533.7 539.8L534.1 548.1L534.5 539.5L535.0 547.6L535.4 539.6L535.8 547.8L536.3 539.9L536.7 548.0L537.1 539.4L537.5 547.3L538.0 539.8L538.4 547.3L538.8 539.5L539.3 535.6L539.7 540.7L540.1 547.2L540.5 540.3L540.9 547.5L541.4 540.8L541.8 547.3L542.2 540.3L542.7 547.3L543.1 540.8L543.5 547.6L544.0 540.5L544.4 547.7L544.8 540.5L545.5 544.6L545.9 516.9L546.3 493.4L546.5 516.9L546.7 565.7L547.1 544.6L547.7 544.0L548.3 545.6L548.8 544.0L549.4 545.4L550.0 544.0L550.6 545.4L551.2 543.9L551.8 545.4L552.4 543.9L552.9 545.5L553.7 542.1L554.1 547.7L554.4 542.0L554.8 547.7L555.1 541.9L555.5 547.4L555.8 541.7L556.2 547.2L556.5 541.9L556.9 547.3L557.2 542.2L557.6 547.5L557.9 541.5L558.3 547.5L558.6 542.0L559.0 547.6L559.4 541.6L559.7 547.1L560.1 542.0L560.4 547.4L560.8 542.1L561.1 547.5L561.5 542.0L561.8 547.6L562.2 541.8L562.5 547.1L562.9 542.2L563.2 547.1L563.6 541.8L563.9 547.3L564.3 541.7L564.6 547.6L565.0 541.9L565.3 547.1L565.7 542.1L566.0 547.2L566.4 542.2L566.7 547.5L567.1 541.6L567.4 547.4L567.8 541.7L568.1 547.6L568.5 541.8L568.8 547.3L569.2 541.9L569.6 547.5L569.9 542.1L570.3 547.0L570.6 541.8L571.0 547.7L571.3 541.5L571.7 547.1L571.9 539.4L572.3 548.3L572.7 540.0L573.1 548.7L573.5 540.3L573.9 549.1L574.2 539.5L574.6 544.6L575.0 488.5L575.2 586.8L575.6 544.6L576.0 544.6L576.4 544.6L585.0 544.6L585.2 544.6L585.9 544.6L586.3 523.1L586.7 544.6L587.9 544.6L588.3 541.1L588.7 548.5L589.1 541.5L589.7 553.2L590.0 539.1L590.5 549.9L591.0 538.8L591.5 549.2L592.0 539.4L592.5 549.2L593.0 539.6L593.5 549.0L594.0 540.0L594.4 549.1L595.1 544.6L595.5 482.1L595.9 544.6L596.3 543.3L596.9 546.0L597.5 543.3L598.1 546.2L598.6 543.4L599.2 545.9L599.8 543.3L600.4 546.1L601.0 543.4L601.6 542.0L601.9 547.7L602.3 542.0L602.6 547.5L603.0 541.8L603.3 547.5L603.7 542.2L604.0 548.1L604.4 542.2L604.7 547.5L605.1 541.6L605.4 547.8L605.8 542.0L606.2 547.4L606.5 541.8L606.9 547.7L607.2 542.2L607.6 547.5L607.9 542.2L608.3 547.8L608.6 542.0L609.0 548.0L609.3 542.1L609.7 547.5L610.0 542.0L610.4 547.6L610.7 541.7L611.1 547.4L611.4 542.3L611.8 547.3L612.1 541.9L612.5 547.5L612.8 541.7L613.2 547.4L613.5 542.2L613.9 547.8L614.2 541.5L614.6 547.8L614.9 541.9L615.6 551.3L616.0 544.6L617.2 540.3L618.0 533.5L618.8 538.4L619.6 544.2L621.1 544.6L622.1 538.4L622.9 533.7L623.9 539.3L624.8 542.7L626.2 544.6L628.2 544.2L630.5 544.6L631.7 539.3L632.7 533.5L633.6 539.3L634.6 543.4L636.0 544.6L636.8 539.3L637.5 535.6L638.5 540.7L639.5 544.6L641.1 542.3L641.8 535.4L642.6 532.5L643.4 540.7L644.2 546.2L645.0 544.6L645.4 529.6L645.7 544.6L646.5 549.1L647.3 544.6L648.1 529.8L648.5 571.6L648.9 544.6L650.0 538.7L650.8 544.6L652.0 544.6L652.8 542.3L653.2 531.7L653.6 544.6L654.0 539.8L654.5 549.4L655.0 538.8L655.5 549.0L656.0 538.8L656.5 549.0L657.0 539.0L657.5 549.6L658.0 539.8L658.5 549.9L659.6 544.6L660.2 509.4L660.4 586.8L660.8 544.6L661.2 538.9L661.7 548.6L662.2 539.7L662.7 548.2L663.2 539.6L663.7 548.1L664.2 539.4L664.7 548.1L665.2 538.9L665.7 542.4L666.2 546.7L666.7 542.4L667.2 546.5L667.7 542.6L668.2 546.7L668.7 542.7L669.2 546.6L669.7 542.4L670.3 546.7L670.8 542.7L671.3 546.4L671.8 542.4L672.3 546.5L673.1 544.6L675.4 544.6L676.2 540.7L676.8 536.4L677.4 542.3L677.8 544.6L678.2 542.6L678.5 547.4L678.9 542.3L679.2 547.6L679.6 542.2L679.9 547.4L680.3 542.3L680.6 547.7L681.0 542.6L681.4 547.4L681.7 542.2L682.1 547.2L682.4 542.3L682.8 547.4L683.1 542.4L683.5 547.7L683.8 542.3L684.2 547.4L684.5 542.5L684.9 547.1L685.2 542.1L685.6 547.4L685.9 542.0L686.3 547.4L686.6 542.4L687.0 547.1L687.3 542.2L687.7 547.5L688.0 542.0L688.4 547.3L688.7 542.5L689.1 547.6L689.4 542.4L689.8 547.7L690.1 542.0L690.5 547.6L690.8 542.4L691.2 547.5L691.6 542.1L691.9 547.3L692.3 541.9L692.6 547.2L693.0 542.0L693.3 547.4L693.7 542.0L694.0 547.6L694.4 542.2L694.7 547.4L695.1 542.1L695.4 547.4L695.8 542.2L696.1 544.6L696.4 509.0L696.6 586.8L697.0 544.6L697.4 541.6L697.9 548.0L698.4 542.0L698.9 547.6L699.4 541.9L699.9 547.4L700.4 542.0L700.8 547.4L701.3 541.7L701.8 547.5L702.3 542.1L702.8 547.4L703.3 541.7L703.8 547.9L704.5 540.3L704.9 542.5L705.4 547.6L705.9 542.6L706.5 547.1L707.0 542.0L707.6 547.6L708.1 542.4L708.7 547.6L709.2 541.9L709.8 547.1L710.3 542.2L710.9 547.2L711.4 542.0L712.0 547.5L712.5 542.4L713.1 547.7L713.6 542.0L714.2 539.5L714.6 551.3L715.0 544.6L715.4 543.3L716.0 546.2L716.6 543.5L717.2 546.5L717.8 543.3L718.3 546.2L718.9 543.3L719.5 546.3L720.1 543.1L720.7 546.5L721.3 544.6L722.1 536.4L722.8 535.4L723.6 544.6L724.2 533.7L724.8 544.6L725.6 526.6L726.2 518.0L726.5 586.8L727.1 501.6L727.5 544.6L728.3 550.1L728.9 544.6L729.1 530.1L729.5 544.6L729.9 542.3L730.5 548.1L731.0 542.7L731.6 547.8L732.2 542.7L732.8 548.0L734.0 544.6L734.6 533.7L735.1 544.6L736.5 546.2L738.1 544.6L740.8 544.6L741.6 538.4L742.0 535.4L742.6 542.3L743.2 544.6L743.5 543.1L744.0 546.1L744.4 543.4L744.8 545.8L745.3 543.4L745.7 546.1L746.1 543.1L746.6 545.8L747.0 543.2L747.4 545.9L747.8 543.2L748.3 546.0L749.0 541.9L749.4 547.8L749.7 542.0L750.1 548.1L750.4 542.0L750.8 547.5L751.1 541.6L751.5 547.8L751.8 542.1L752.2 547.8L752.5 541.6L752.9 548.0L753.2 541.9L753.6 548.1L753.9 542.2L754.3 547.5L754.6 542.0L755.0 547.4L755.4 542.0L755.7 547.8L756.1 542.0L756.4 547.7L756.8 542.9L757.2 546.9L757.5 542.4L757.9 546.8L758.2 542.7L758.6 546.9L758.9 542.8L759.3 547.1L759.7 542.8L760.0 546.8L760.4 542.7L760.7 546.9L761.1 542.7L761.4 547.1L761.8 542.7L762.1 547.3L762.5 542.5L763.1 544.6L763.7 538.4L764.3 529.8L764.8 540.3L765.4 548.1L766.2 544.6L767.8 544.6L768.6 548.1L769.1 542.3L769.7 529.8L770.3 540.3L771.1 543.4L773.1 544.6L774.8 544.6L775.6 538.7L776.2 534.4L776.8 540.7L777.6 544.2L779.9 544.6L781.9 544.2L783.0 538.4L783.8 532.1L784.6 538.7L785.4 543.4L786.5 542.3L787.3 537.6L787.9 536.4L788.5 541.5L789.3 544.6L790.4 542.3L791.2 525.8L791.8 540.3L792.6 544.6L794.0 544.2L794.7 538.4L795.5 530.1L796.1 539.5L796.9 544.2L798.7 544.6L800.2 542.3L801.0 532.5L801.4 530.1L802.0 539.5L802.8 544.2L805.3 544.6" fill="none" stroke="#0505ff" stroke-width="1.0" stroke-linejoin="round" clip-path="url(#cpm)"/>
<rect x="577" y="475.2" width="10" height="112.09999999999997" fill="#e2e2e2" opacity=".8"/>
<rect x="361.5" y="475.2" width="444.0" height="112.09999999999997" fill="none" stroke="#222" stroke-width="1"/>
<text x="354.6" y="479.40" font-size="8.6" text-anchor="end" fill="#1a1a1a" stroke="#1a1a1a" stroke-width="0.3" style="letter-spacing:-0.05px">21.0</text>
<text x="354.6" y="516.77" font-size="8.6" text-anchor="end" fill="#1a1a1a" stroke="#1a1a1a" stroke-width="0.3" style="letter-spacing:-0.05px">14.0</text>
<text x="354.6" y="554.13" font-size="8.6" text-anchor="end" fill="#1a1a1a" stroke="#1a1a1a" stroke-width="0.3" style="letter-spacing:-0.05px">7.0</text>
<text x="354.6" y="591.50" font-size="8.6" text-anchor="end" fill="#1a1a1a" stroke="#1a1a1a" stroke-width="0.3" style="letter-spacing:-0.05px">0.0</text>
<path d="M361.0 475.20h-4M361.0 484.54h-2.4M361.0 493.88h-2.4M361.0 503.22h-2.4M361.0 512.57h-4M361.0 521.91h-2.4M361.0 531.25h-2.4M361.0 540.59h-2.4M361.0 549.93h-4M361.0 559.27h-2.4M361.0 568.62h-2.4M361.0 577.96h-2.4M361.0 587.30h-4" stroke="#222" stroke-width="1" fill="none"/>
<path d="M361.40 587.8v6.5M367.45 587.8v3.6M373.51 587.8v3.6M379.56 587.8v3.6M385.62 587.8v3.6M391.67 587.8v3.6M397.72 587.8v3.6M403.78 587.8v3.6M409.83 587.8v3.6M415.89 587.8v3.6M421.94 587.8v6.5M427.99 587.8v3.6M434.05 587.8v3.6M440.10 587.8v3.6M446.16 587.8v3.6M452.21 587.8v3.6M458.26 587.8v3.6M464.32 587.8v3.6M470.37 587.8v3.6M476.43 587.8v3.6M482.48 587.8v6.5M488.53 587.8v3.6M494.59 587.8v3.6M500.64 587.8v3.6M506.70 587.8v3.6M512.75 587.8v3.6M518.80 587.8v3.6M524.86 587.8v3.6M530.91 587.8v3.6M536.97 587.8v3.6M543.02 587.8v6.5M549.07 587.8v3.6M555.13 587.8v3.6M561.18 587.8v3.6M567.24 587.8v3.6M573.29 587.8v3.6M579.34 587.8v3.6M585.40 587.8v3.6M591.45 587.8v3.6M597.51 587.8v3.6M603.56 587.8v6.5M609.61 587.8v3.6M615.67 587.8v3.6M621.72 587.8v3.6M627.78 587.8v3.6M633.83 587.8v3.6M639.88 587.8v3.6M645.94 587.8v3.6M651.99 587.8v3.6M658.05 587.8v3.6M664.10 587.8v6.5M670.15 587.8v3.6M676.21 587.8v3.6M682.26 587.8v3.6M688.32 587.8v3.6M694.37 587.8v3.6M700.42 587.8v3.6M706.48 587.8v3.6M712.53 587.8v3.6M718.59 587.8v3.6M724.64 587.8v6.5M730.69 587.8v3.6M736.75 587.8v3.6M742.80 587.8v3.6M748.86 587.8v3.6M754.91 587.8v3.6M760.96 587.8v3.6M767.02 587.8v3.6M773.07 587.8v3.6M779.13 587.8v3.6M785.18 587.8v6.5M791.23 587.8v3.6M797.29 587.8v3.6M803.34 587.8v3.6" stroke="#222" stroke-width="1" fill="none"/>
<text x="361.40" y="603.50" font-size="8.6" text-anchor="middle" fill="#1a1a1a" stroke="#1a1a1a" stroke-width="0.3" textLength="35" lengthAdjust="spacingAndGlyphs">01:33:45</text>
<text x="421.94" y="603.50" font-size="8.6" text-anchor="middle" fill="#1a1a1a" stroke="#1a1a1a" stroke-width="0.3" textLength="35" lengthAdjust="spacingAndGlyphs">01:34:30</text>
<text x="482.48" y="603.50" font-size="8.6" text-anchor="middle" fill="#1a1a1a" stroke="#1a1a1a" stroke-width="0.3" textLength="35" lengthAdjust="spacingAndGlyphs">01:35:15</text>
<text x="543.02" y="603.50" font-size="8.6" text-anchor="middle" fill="#1a1a1a" stroke="#1a1a1a" stroke-width="0.3" textLength="35" lengthAdjust="spacingAndGlyphs">01:36:00</text>
<text x="603.56" y="603.50" font-size="8.6" text-anchor="middle" fill="#1a1a1a" stroke="#1a1a1a" stroke-width="0.3" textLength="35" lengthAdjust="spacingAndGlyphs">01:36:45</text>
<text x="664.10" y="603.50" font-size="8.6" text-anchor="middle" fill="#1a1a1a" stroke="#1a1a1a" stroke-width="0.3" textLength="35" lengthAdjust="spacingAndGlyphs">01:37:30</text>
<text x="724.64" y="603.50" font-size="8.6" text-anchor="middle" fill="#1a1a1a" stroke="#1a1a1a" stroke-width="0.3" textLength="35" lengthAdjust="spacingAndGlyphs">01:38:15</text>
<text x="785.18" y="603.50" font-size="8.6" text-anchor="middle" fill="#1a1a1a" stroke="#1a1a1a" stroke-width="0.3" textLength="35" lengthAdjust="spacingAndGlyphs">01:39:00</text>
<text x="364.3" y="471.6" font-size="8.6" fill="#111" stroke="#111" stroke-width="0.18" textLength="78" lengthAdjust="spacingAndGlyphs">Mask Pressure: 7.83</text>
<text x="804.4" y="471.6" font-size="8.6" text-anchor="end" fill="#111" stroke="#111" stroke-width="0.18" textLength="54.5" lengthAdjust="spacingAndGlyphs">Mask Pressure</text>
<rect x="736" y="467.4" width="10.6" height="1.5" fill="#1010ff"/>
<text transform="translate(305.4,534) rotate(-90)" font-size="12.2" font-weight="bold" text-anchor="middle" fill="#181818" textLength="83" lengthAdjust="spacingAndGlyphs">Mask Pressure</text>
<rect x="554.1" y="167.5" width="1.3" height="438.5" fill="#4cf046"/>
</svg>
<svg width="1024" height="60" viewBox="0 0 1024 60"><defs><radialGradient id="pg1" cx="0.5" cy="0.5" r="0.55"><stop offset="0" stop-color="#ffffff"/><stop offset="0.3" stop-color="#c4ffcc"/><stop offset="0.62" stop-color="#3adf5e"/><stop offset="1" stop-color="#0fb238"/></radialGradient><linearGradient id="pg2" x1="0" y1="0" x2="1" y2="1"><stop offset="0" stop-color="#2fd455"/><stop offset="0.5" stop-color="#14bc3c"/><stop offset="1" stop-color="#0b9a2c"/></linearGradient></defs><path d="M309.6 47.6L313.2 44" stroke="#8a8a90" stroke-width="1.4"/><ellipse cx="317.3" cy="39.4" rx="8" ry="7.3" transform="rotate(-20 317.3 39.4)" fill="url(#pg2)"/><path d="M313.6 34.4L319.5 28.5L325.4 35.2L322 41.5Z" fill="#12b83a"/><ellipse cx="325.7" cy="30" rx="8.1" ry="6" transform="rotate(33 325.7 30)" fill="#14b83c"/><ellipse cx="325.9" cy="29.6" rx="7.6" ry="5.6" transform="rotate(33 325.9 29.6)" fill="url(#pg1)"/><ellipse cx="318" cy="39.6" rx="1" ry=".6" fill="#d8ffe0" opacity=".8"/></svg>
<svg width="1024" height="640" viewBox="0 0 1024 640"><path d="M300 617.2h6.4l-3.2 5.6zM707.8 617.2h6.4l-3.2 5.6z" fill="#777"/></svg>
<div class="t " style="left:312px;top:614.84px;font-size:8.7px;color:#222;letter-spacing:-0.2px">Flags</div>
<div class="t " style="left:720.2px;top:614.84px;font-size:8.7px;color:#222;letter-spacing:-0.15px">Graphs</div>
<div class="abs" style="left:339.5px;top:610.8px;width:73px;height:15.8px;background:linear-gradient(#ffffff,#f4f4f4 50%,#eaeaea);border:1px solid #a8a8a8;border-radius:3.5px;box-shadow:0 1px 1px rgba(0,0,0,.12)"></div>
<div class="abs" style="left:346.8px;top:615.8px;width:6.399999999999977px;height:4.8px;background:#111"></div>
<div class="abs" style="left:353.2px;top:615.8px;width:6.800000000000011px;height:4.8px;background:#3f8a10"></div>
<div class="t " style="left:362.8px;top:614.78px;font-size:9px;color:#222;letter-spacing:-0.6px">LL</div>
<svg width="1024" height="640" viewBox="0 0 1024 640"><path d="M403.1 617.2l2.2-2.8l2.2 2.8zM403.1 620.2l2.2 2.8l2.2-2.8z" fill="#444"/></svg>
<div class="abs" style="left:754.4px;top:610.8px;width:73.2px;height:15.8px;background:linear-gradient(#ffffff,#f4f4f4 50%,#eaeaea);border:1px solid #a8a8a8;border-radius:3.5px;box-shadow:0 1px 1px rgba(0,0,0,.12)"></div>
<div class="abs" style="left:762.5px;top:615.8px;width:7.7000000000000455px;height:4.8px;background:#111"></div>
<div class="abs" style="left:770.2px;top:615.8px;width:8.399999999999977px;height:4.8px;background:#3f8a10"></div>
<svg width="1024" height="640" viewBox="0 0 1024 640"><path d="M818.2 617.2l2.2-2.8l2.2 2.8zM818.2 620.2l2.2 2.8l2.2-2.8z" fill="#444"/></svg>
<div class="abs" style="left:781px;top:613px;width:33.5px;height:12px;overflow:hidden"><div class="t" style="left:0;top:1.6px;font-size:9px;color:#222;letter-spacing:-0.1px">Event Flags</div></div>
<div class="abs" style="left:809.5px;top:612px;width:5.5px;height:13px;background:linear-gradient(90deg,rgba(243,243,243,0),#f1f1f1 85%)"></div>
<div class="t " style="left:405.79999999999995px;width:300px;text-align:center;top:612.95px;font-size:11.4px;color:#222;">Feb 15 01:36:09.127</div>
<div class="abs" style="left:840px;top:0px;width:184px;height:634.5px;background:#a0bcff"></div>
<div class="abs" style="left:840px;top:0px;width:184px;height:25px;background:linear-gradient(#7d7db5,#8594cb)"></div>
<div class="abs" style="left:840px;top:583px;width:184px;height:25.7px;background:linear-gradient(#7f7fb3,#8492ca)"></div>
<div class="abs" style="left:840px;top:608.7px;width:184px;height:25.9px;background:linear-gradient(#7f7fb3,#8492ca)"></div>
<div class="t " style="left:867.4px;top:8.50px;font-size:10.4px;color:#fff;font-style:italic;letter-spacing:-0.05px;text-shadow:0 0 1px rgba(255,255,255,.5)">Navigation</div>
<div class="t " style="left:860px;top:591.77px;font-size:10.2px;color:#4d4d60;letter-spacing:-0.05px">Bookmarks</div>
<div class="t " style="left:866.5px;top:617.57px;font-size:10.2px;color:#4d4d60;letter-spacing:0.05px">Records</div>
<svg width="1024" height="640" viewBox="0 0 1024 640"><text x="931.5" y="100" font-size="8.6" text-anchor="middle" fill="#0a0a0a" stroke="#0a0a0a" stroke-width="0.15" textLength="33.7" lengthAdjust="spacingAndGlyphs">Statistics</text></svg>
<svg width="1024" height="640" viewBox="0 0 1024 640"><text x="932" y="178.2" font-size="8.6" text-anchor="middle" fill="#0a0a0a" stroke="#0a0a0a" stroke-width="0.15" textLength="17.5" lengthAdjust="spacingAndGlyphs">Daily</text></svg>
<svg width="1024" height="640" viewBox="0 0 1024 640"><text x="931.5" y="255.3" font-size="8.6" text-anchor="middle" fill="#0a0a0a" stroke="#0a0a0a" stroke-width="0.15" textLength="31.5" lengthAdjust="spacingAndGlyphs">Overview</text></svg>
<svg width="1024" height="640" viewBox="0 0 1024 640"><text x="931.5" y="332.8" font-size="8.6" text-anchor="middle" fill="#0a0a0a" stroke="#0a0a0a" stroke-width="0.15" textLength="31.5" lengthAdjust="spacingAndGlyphs">Oximetry</text></svg>
<svg width="1024" height="640" viewBox="0 0 1024 640"><text x="931.5" y="410.2" font-size="8.6" text-anchor="middle" fill="#0a0a0a" stroke="#0a0a0a" stroke-width="0.15" textLength="22.5" lengthAdjust="spacingAndGlyphs">Import</text></svg>
<svg width="1024" height="640" viewBox="0 0 1024 640"><text x="931.5" y="488" font-size="8.6" text-anchor="middle" fill="#0a0a0a" stroke="#0a0a0a" stroke-width="0.15" textLength="14.5" lengthAdjust="spacingAndGlyphs">Help</text></svg>
<svg width="1024" height="640" viewBox="0 0 1024 640"><defs><linearGradient id="eyeg" gradientUnits="userSpaceOnUse" x1="938" y1="52" x2="951" y2="61"><stop offset="0" stop-color="#1c1040"/><stop offset="0.5" stop-color="#d8d0e8"/><stop offset="1" stop-color="#1c1040"/></linearGradient><radialGradient id="lensg" cx="0.5" cy="0.5" r="0.5"><stop offset="0" stop-color="#7f93cc"/><stop offset="0.85" stop-color="#7b8fc8"/><stop offset="1" stop-color="#b9c6ea"/></radialGradient><linearGradient id="handg" gradientUnits="userSpaceOnUse" x1="940.5" y1="157.5" x2="947.5" y2="150.5"><stop offset="0" stop-color="#e8b48a"/><stop offset="0.45" stop-color="#fff6ec"/><stop offset="1" stop-color="#f2cda8"/></linearGradient><linearGradient id="redg" x1="0" y1="0" x2="0" y2="1"><stop offset="0" stop-color="#ffb4ac"/><stop offset="0.5" stop-color="#ff7a70"/><stop offset="1" stop-color="#ff4238"/></linearGradient><linearGradient id="purg" x1="0" y1="0" x2="0" y2="1"><stop offset="0" stop-color="#9a5cff"/><stop offset="1" stop-color="#7a10ff"/></linearGradient><linearGradient id="grng" x1="0" y1="0" x2="0" y2="1"><stop offset="0" stop-color="#6cff8c"/><stop offset="1" stop-color="#22f050"/></linearGradient><linearGradient id="yelg" x1="0" y1="0" x2="0" y2="1"><stop offset="0" stop-color="#ffffa8"/><stop offset="1" stop-color="#fdf878"/></linearGradient><linearGradient id="sdg" x1="0" y1="0" x2="0" y2="1"><stop offset="0" stop-color="#ffffff"/><stop offset="0.40" stop-color="#ffffff"/><stop offset="0.60" stop-color="#ee3844"/><stop offset="1" stop-color="#e00a18"/></linearGradient><radialGradient id="buoy" gradientUnits="userSpaceOnUse" cx="932.1" cy="452.7" r="24"><stop offset="0.48" stop-color="#d81408"/><stop offset="0.62" stop-color="#ff6a60"/><stop offset="0.76" stop-color="#ff7c72"/><stop offset="0.92" stop-color="#ff3022"/><stop offset="1" stop-color="#e81808"/></radialGradient><linearGradient id="oxb" x1="0" y1="0" x2="1" y2="1"><stop offset="0" stop-color="#3a7ad8"/><stop offset="1" stop-color="#1a55b8"/></linearGradient><linearGradient id="oxw" x1="0" y1="0" x2="1" y2="0"><stop offset="0" stop-color="#f4f6fa"/><stop offset="0.5" stop-color="#ffffff"/><stop offset="1" stop-color="#e4e8f0"/></linearGradient><linearGradient id="gold" x1="0" y1="0" x2="1" y2="0"><stop offset="0" stop-color="#b89a10"/><stop offset="0.4" stop-color="#fff27a"/><stop offset="1" stop-color="#a88808"/></linearGradient></defs>
<path d="M909.4 64.8C914.5 62 922 50.6 932.8 50.6C943.500 50.6 950.500 62 955.4 65.2C950.500 68 943 80.4 932.8 80.4C922.500 80.4 914.5 68 909.4 64.8Z" fill="none" stroke="#1c1040" stroke-width="2.3" stroke-linejoin="miter"/>
<path d="M938.8 51.6C943 53.2 946.4 57.2 949.6 60.6" fill="none" stroke="url(#eyeg)" stroke-width="2.4"/>
<path d="M907.6 64.8l4.600-2.600v5.400z" fill="#1c1040"/>
<circle cx="932.8" cy="65.6" r="8.5" fill="none" stroke="#1c1040" stroke-width="1.3"/>
<circle cx="933" cy="65.8" r="5.3" fill="#1c1040"/><circle cx="930" cy="62.8" r="2" fill="#a0bcff"/>
<path d="M931.5 141.5L938 148" stroke="#262626" stroke-width="4.6"/>
<path d="M937 146.2L939.8 144.6L952.6 157.4L949 161.6L935.6 148.4Z" fill="url(#handg)"/>
<path d="M950 158.6L953 161.6" stroke="#2a2a2a" stroke-width="7.2"/><circle cx="953" cy="161.8" r="3.5" fill="#2a2a2a"/>
<path d="M936.4 145.6L939.4 148.6" stroke="#3a3a3a" stroke-width="5.6"/>
<circle cx="922.7" cy="132" r="12.7" fill="url(#lensg)" stroke="#141414" stroke-width="3"/>
<circle cx="922.7" cy="132" r="13.6" fill="none" stroke="#555" stroke-width="0.6" opacity=".6"/>
<path d="M909.7 224.5L911 221.6L917.8 221L918.6 223.6L919 241.8L912.4 241.2Z" fill="url(#grng)"/><path d="M909.7 224.5L911 221.6L917.8 221L918.6 223.6Z" fill="#3cff68"/>
<path d="M917 220.6L918.4 217.2L924.6 217L925.6 219.6L926 242.6L919 241.8Z" fill="url(#yelg)"/><path d="M917 220.6L918.4 217.2L924.6 217L925.6 219.6Z" fill="#ffff80"/>
<path d="M923.6 196L933.8 195.4L933.4 243.6L926.2 242.8Z" fill="url(#redg)"/><path d="M932.4 195.4L933.9 195.4L933.5 243.6L932.4 243.4Z" fill="#e43624"/><path d="M923.6 196.4L924 195L933.8 194.8L933.8 196Z" fill="#ff5a4c"/>
<path d="M933.6 216L942.6 216L941.4 244.4L933.4 243.6Z" fill="url(#purg)"/><path d="M933.8 214.2L942.4 214L942.6 216.2L933.6 216.2Z" fill="#5a08e8"/>
<path d="M943.6 206.2L952.8 206.2L953.8 208.4L949.4 245.4L941.2 244.6Z" fill="#ffffff"/>
<path d="M912 295L914.6 309.8L925.8 318.6L950 305.6L951.4 287.5L930 300Z" fill="url(#oxw)"/>
<path d="M911.2 291.5C911.5 289 914 288 917 287L936 280.3C942 279.6 949 281.5 951 286C951.5 288 950 289.5 948 290.5L927.8 303.8L926.5 300L917.5 301.2L916.4 296.5L912 295.6Z" fill="url(#oxb)"/>
<path d="M921.6 287.4L938.6 281.2L947.8 285.8L930.6 295Z" fill="#c8ccd4"/><path d="M923.2 287.6L938.4 282.2L946 286L930.8 293.8Z" fill="#101418"/>
<path d="M925 288l8-3.2l1.4 1l-8 3.4zM928 291l10-4.6l1.6 1.2l-10 4.8z" fill="#28b8ff"/><path d="M925 286.6l7-2.8l1 .8l-7 3z" fill="#e8e020"/>
<ellipse cx="937.4" cy="303" rx="3.4" ry="3.9" fill="#2a5fc0"/><circle cx="944.6" cy="281.8" r="1.6" fill="#e8f4ff"/>
<path d="M934.5 311.5L948 303.5" stroke="#9aa6c8" stroke-width="1"/>
<path d="M914.6 351H945.2L951.9 358.2V366.5L951 367.5V369L951.9 370V399.7H914.6V373.5L913.6 373V364L914.6 363.5Z" fill="#3c3c3c"/>
<path d="M917 354.6H944C946.8 355 948.5 357.5 948.7 360V394.5C948.7 396 947.6 397 946 397H917Z" fill="url(#sdg)"/>
<rect x="913.8" y="363.8" width="2" height="3.4" fill="#d8d8d8"/><path d="M917.6 362.5v13" stroke="#888" stroke-width="1.6" stroke-dasharray="1 1" opacity=".7"/>
<text x="933.6" y="370.3" font-size="7.8" text-anchor="middle" fill="#3a7cec" stroke="#3a7cec" stroke-width=".35" textLength="20.5" lengthAdjust="spacingAndGlyphs">CPAP</text>
<text x="933.2" y="393" font-size="22.5" text-anchor="middle" fill="#f6f6f6" stroke="#f6f6f6" stroke-width=".7" textLength="27" lengthAdjust="spacingAndGlyphs">SD</text>
<circle cx="932.1" cy="452.7" r="17.85" fill="none" stroke="url(#buoy)" stroke-width="12.3"/>
<path d="M944.74 432.07A24.2 24.2 0 0 1 952.73 440.06L941.46 446.02A11.5 11.5 0 0 0 938.78 443.34Z" fill="#fff"/>
<path d="M952.73 465.34A24.2 24.2 0 0 1 944.74 473.33L938.78 462.06A11.5 11.5 0 0 0 941.46 459.38Z" fill="#fff"/>
<path d="M919.46 473.33A24.2 24.2 0 0 1 911.47 465.34L922.74 459.38A11.5 11.5 0 0 0 925.42 462.06Z" fill="#fff"/>
<path d="M911.47 440.06A24.2 24.2 0 0 1 919.46 432.07L925.42 443.34A11.5 11.5 0 0 0 922.74 446.02Z" fill="#fff"/>
<ellipse cx="855" cy="13.4" rx="7.2" ry="5.6" fill="#f4f4f4"/><ellipse cx="856.5" cy="12" rx="4.5" ry="3.2" fill="#fff"/>
<rect x="849" y="18.4" width="2.8" height="3" fill="#111"/><rect x="855.6" y="18.4" width="2.8" height="3" fill="#111"/>
<ellipse cx="849.8" cy="9.6" rx="4" ry="4.2" fill="#d9a24e"/><ellipse cx="851" cy="5.6" rx="3.4" ry="2" fill="#f0f0f0"/>
<path d="M844.6 9l3.6-1.6l1 4.4l-3.4 1.4z" fill="#dfe6e6" stroke="#777" stroke-width=".5"/><path d="M848.5 8.2l4.5-1.2M848.8 10.6l4 .2" stroke="#333" stroke-width=".9"/>
<path d="M847.2 13.6q3 1.6 6.4-.6l-.4 1.8q-3 1.8-5.6.4z" fill="#e02818"/>
<path d="M847 588.2q0-1.2 1.2-1.2h1.9q1.2 0 1.2 1.2V604.6l-2.15-1.7l-2.15 1.7z" fill="#d40808"/><circle cx="849.2" cy="589.6" r=".5" fill="#ffb0a0"/>
<path d="M846.4 624.5h11.4l1 6.2h-13.4z" fill="#151515"/><ellipse cx="852.1" cy="628.8" rx="5.6" ry="1.2" fill="#8a8660"/>
<path d="M846.2 612.8h11.8q-.2 7.6-4.6 9.6l.5 2.2l2 1.2h-7.6l2-1.2l.5-2.2q-4.400-2-4.600-9.600z" fill="url(#gold)"/>
<path d="M846.2 613.8q-2.400.2-2 3q.6 2.800 3.400 3.400M858 613.8q2.400.2 2 3q-.6 2.800-3.400 3.400" fill="none" stroke="#d8c030" stroke-width="1"/>
</svg>
<div class="abs" style="left:0px;top:631.8px;width:840px;height:2.2px;background:linear-gradient(rgba(110,110,110,0),rgba(110,110,110,.4))"></div>
<div class="abs" style="left:0px;top:634px;width:1024px;height:6px;background:linear-gradient(#7c7c7c,#a9a9a9 25%,#9e9e9e)"></div>
</div></body></html>
